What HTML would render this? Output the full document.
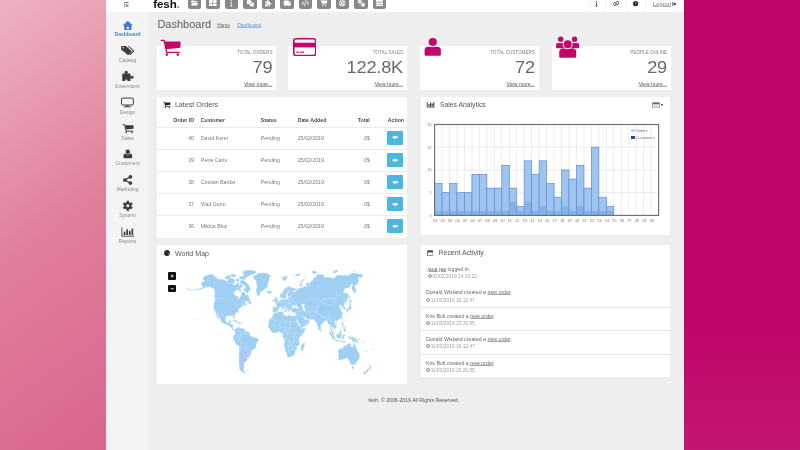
<!DOCTYPE html>
<html><head><meta charset="utf-8"><title>Dashboard</title>
<style>
html,body{margin:0;padding:0;width:800px;height:450px;overflow:hidden;}
#clip{position:absolute;left:0;top:0;width:800px;height:450px;overflow:hidden;}
body{width:800px;height:450px;overflow:hidden;position:relative;background:#eeeeee;font-family:"Liberation Sans",sans-serif;}
#root{position:absolute;left:0;top:0;width:800px;height:450px;filter:blur(0.62px);}
u{text-decoration:underline;text-decoration-color:rgba(90,90,90,0.55);text-underline-offset:0.3px;}
</style></head><body><div id="clip"><div id="root">
<div style="position:absolute;left:-20.00px;top:-20.00px;width:126.00px;height:490.00px;background:#e07f9a;"></div>
<div style="position:absolute;left:0.00px;top:0.00px;width:106.00px;height:450.00px;background:linear-gradient(145deg,#edb2bf 0%,#e07f9a 50%,#d8658c 100%);"></div>
<div style="position:absolute;left:684.00px;top:-20.00px;width:136.00px;height:490.00px;background:linear-gradient(180deg,#c0056a 0%,#c0056a 70%,#c21671 96%,#c21671 100%);"></div>
<div style="position:absolute;left:105.70px;top:-20.00px;width:578.30px;height:490.00px;background:#eeeeee;"></div>
<div style="position:absolute;left:105.70px;top:-20.00px;width:42.50px;height:490.00px;background:#f4f4f4;"></div>
<div style="position:absolute;left:105.70px;top:-20.00px;width:578.30px;height:32.00px;background:#fff;"></div>
<svg style="position:absolute;left:122.00px;top:2.00px;width:8.40px;height:5.40px;overflow:visible" viewBox="0 0 448 512" preserveAspectRatio="xMidYMid meet"><path fill="#5a5a5a" d="M.4 64c0-17.7 14.3-32 32-32h384c17.7 0 32 14.3 32 32s-14.3 32-32 32h-384C14.8 96 .4 81.7.4 64m192 128c0-17.7 14.3-32 32-32h192c17.7 0 32 14.3 32 32s-14.3 32-32 32h-192c-17.7 0-32-14.3-32-32m32 96h192c17.7 0 32 14.3 32 32s-14.3 32-32 32h-192c-17.7 0-32-14.3-32-32s14.3-32 32-32M.4 448c0-17.7 14.3-32 32-32h384c17.7 0 32 14.3 32 32s-14.3 32-32 32h-384c-17.7 0-32-14.3-32-32m.3-179.4c-8.2-6.4-8.2-18.9 0-25.3L102.6 164c10.5-8.2 25.8-.7 25.8 12.6v158.6c0 13.3-15.3 20.8-25.8 12.6z"/></svg>
<div style="position:absolute;top:-1px;font-size:11.6px;line-height:10px;color:#111;white-space:nowrap;font-weight:700;letter-spacing:-0.1px;left:153.20px;">fesh<span style="color:#e0407c">.</span></div>
<div style="position:absolute;left:187.60px;top:-4.00px;width:13.60px;height:13.30px;background:#888;border-radius:2.2px;"></div>
<svg style="position:absolute;left:190.10px;top:-0.10px;width:8.60px;height:6.40px;overflow:visible" viewBox="0 0 576 512" preserveAspectRatio="xMidYMid meet"><path fill="#fff" d="m56 225.6-23.6 70.6V96c0-35.3 28.7-64 64-64h138.7c13.8 0 27.3 4.5 38.4 12.8l38.4 28.8c5.5 4.2 12.3 6.4 19.2 6.4h117.3c35.3 0 64 28.7 64 64v16H147c-41.3 0-78 26.4-91.1 65.6zM477.8 448H99c-32.8 0-55.9-32.1-45.5-63.2l48-144C108 221.2 126.4 208 147 208h378.8c32.8 0 55.9 32.1 45.5 63.2l-48 144c-6.5 19.6-24.9 32.8-45.5 32.8"/></svg>
<div style="position:absolute;left:206.10px;top:-4.00px;width:13.60px;height:13.30px;background:#888;border-radius:2.2px;"></div>
<svg style="position:absolute;left:209.10px;top:-0.4px;width:7.6px;height:6.6px" viewBox="0 0 76 66"><rect x="0" y="0" width="35" height="30" rx="4" fill="#fff"/><rect x="41" y="0" width="35" height="30" rx="4" fill="#fff"/><rect x="0" y="36" width="35" height="30" rx="4" fill="#fff"/><rect x="41" y="36" width="35" height="30" rx="4" fill="#fff"/></svg>
<div style="position:absolute;left:224.60px;top:-4.00px;width:13.60px;height:13.30px;background:#888;border-radius:2.2px;"></div>
<svg style="position:absolute;left:227.10px;top:-0.10px;width:8.60px;height:6.40px;overflow:visible" viewBox="0 0 192 512" preserveAspectRatio="xMidYMid meet"><path fill="#fff" d="M48 48a48 48 0 1 1 96 0 48 48 0 1 1-96 0M0 192c0-17.7 14.3-32 32-32h64c17.7 0 32 14.3 32 32v256h32c17.7 0 32 14.3 32 32s-14.3 32-32 32H32c-17.7 0-32-14.3-32-32s14.3-32 32-32h32V224H32c-17.7 0-32-14.3-32-32"/></svg>
<div style="position:absolute;left:243.10px;top:-4.00px;width:13.60px;height:13.30px;background:#888;border-radius:2.2px;"></div>
<svg style="position:absolute;left:245.60px;top:-0.10px;width:8.60px;height:6.40px;overflow:visible" viewBox="0 0 576 512" preserveAspectRatio="xMidYMid meet"><path fill="#fff" d="M384 144c0 97.2-86 176-192 176-26.7 0-52.1-5-75.2-14l-81.6 43.2c-9.3 4.9-20.7 3.2-28.2-4.2s-9.2-18.9-4.2-28.2l35.6-67.2C14.3 220.2 0 183.6 0 144 0 46.8 86-32 192-32s192 78.8 192 176m0 368c-94.1 0-172.4-62.1-188.8-144 120-1.5 224.3-86.9 235.8-202.7 83.3 19.2 145 88.3 145 170.7 0 39.6-14.3 76.2-38.4 105.6l35.6 67.2c4.9 9.3 3.2 20.7-4.2 28.2s-18.9 9.2-28.2 4.2L459.2 498c-23.1 9-48.5 14-75.2 14"/></svg>
<div style="position:absolute;left:261.60px;top:-4.00px;width:13.60px;height:13.30px;background:#888;border-radius:2.2px;"></div>
<svg style="position:absolute;left:264.10px;top:-0.10px;width:8.60px;height:6.40px;overflow:visible" viewBox="0 0 512 512" preserveAspectRatio="xMidYMid meet"><path fill="#fff" d="M224 0c35.3 0 64 21.5 64 48 0 10.4-4.4 20-12 27.9-6.6 6.9-12 15.3-12 24.9 0 15 12.2 27.2 27.2 27.2H336c26.5 0 48 21.5 48 48v44.8c0 15 12.2 27.2 27.2 27.2 9.5 0 18-5.4 24.9-12 7.9-7.5 17.5-12 27.9-12 26.5 0 48 28.7 48 64s-21.5 64-48 64c-10.4 0-20.1-4.4-27.9-12-6.9-6.6-15.3-12-24.9-12-15 0-27.2 12.2-27.2 27.2V464c0 26.5-21.5 48-48 48h-56.8c-12.8 0-23.2-10.4-23.2-23.2 0-9.2 5.8-17.3 13.2-22.8 11.6-8.7 18.8-20.7 18.8-34 0-26.5-28.7-48-64-48s-64 21.5-64 48c0 13.3 7.2 25.3 18.8 34 7.4 5.5 13.2 13.5 13.2 22.8 0 12.8-10.4 23.2-23.2 23.2H48c-26.5 0-48-21.5-48-48V343.2C0 330.4 10.4 320 23.2 320c9.2 0 17.3 5.8 22.8 13.2 8.7 11.6 20.7 18.8 34 18.8 26.5 0 48-28.7 48-64s-21.5-64-48-64c-13.3 0-25.3 7.2-34 18.8-5.5 7.4-13.5 13.2-22.8 13.2C10.4 256 0 245.6 0 232.8V176c0-26.5 21.5-48 48-48h108.8c15 0 27.2-12.2 27.2-27.2 0-9.5-5.4-18-12-24.9-7.5-7.9-12-17.5-12-27.9 0-26.5 28.7-48 64-48"/></svg>
<div style="position:absolute;left:280.10px;top:-4.00px;width:13.60px;height:13.30px;background:#888;border-radius:2.2px;"></div>
<svg style="position:absolute;left:282.60px;top:-0.10px;width:8.60px;height:6.40px;overflow:visible" viewBox="0 0 576 512" preserveAspectRatio="xMidYMid meet"><path fill="#fff" d="M0 96c0-35.3 28.7-64 64-64h288c35.3 0 64 28.7 64 64v32h50.7c17 0 33.3 6.7 45.3 18.7l45.3 45.3c12 12 18.7 28.3 18.7 45.3V384c0 35.3-28.7 64-64 64h-3.3c-10.4 36.9-44.4 64-84.7 64s-74.2-27.1-84.7-64H236.7c-10.4 36.9-44.4 64-84.7 64s-74.2-27.1-84.7-64H64c-35.3 0-64-28.7-64-64zm512 192v-50.7L466.7 192H416v96zM192 424a40 40 0 1 0-80 0 40 40 0 1 0 80 0m232 40a40 40 0 1 0 0-80 40 40 0 1 0 0 80"/></svg>
<div style="position:absolute;left:298.60px;top:-4.00px;width:13.60px;height:13.30px;background:#888;border-radius:2.2px;"></div>
<svg style="position:absolute;left:301.10px;top:-0.10px;width:8.60px;height:6.40px;overflow:visible" viewBox="0 0 576 512" preserveAspectRatio="xMidYMid meet"><path fill="#fff" d="M360.8 1.2c-17-4.9-34.7 5-39.6 22l-128 448c-4.9 17 5 34.7 22 39.6s34.7-5 39.6-22l128-448c4.9-17-5-34.7-22-39.6m64.6 136.1c-12.5 12.5-12.5 32.8 0 45.3l73.4 73.4-73.4 73.4c-12.5 12.5-12.5 32.8 0 45.3s32.8 12.5 45.3 0l96-96c12.5-12.5 12.5-32.8 0-45.3l-96-96c-12.5-12.5-32.8-12.5-45.3 0zm-274.7 0c-12.5-12.5-32.8-12.5-45.3 0l-96 96c-12.5 12.5-12.5 32.8 0 45.3l96 96c12.5 12.5 32.8 12.5 45.3 0s12.5-32.8 0-45.3L77.3 256l73.3-73.4c12.5-12.5 12.5-32.8 0-45.3z"/></svg>
<div style="position:absolute;left:317.10px;top:-4.00px;width:13.60px;height:13.30px;background:#888;border-radius:2.2px;"></div>
<svg style="position:absolute;left:319.60px;top:-0.10px;width:8.60px;height:6.40px;overflow:visible" viewBox="0 0 640 512" preserveAspectRatio="xMidYMid meet"><path fill="#fff" d="M24-16C10.7-16 0-5.3 0 8s10.7 24 24 24h45.3c3.9 0 7.2 2.8 7.9 6.6l52.1 286.3c6.2 34.2 36 59.1 70.8 59.1H456c13.3 0 24-10.7 24-24s-10.7-24-24-24H200.1c-11.6 0-21.5-8.3-23.6-19.7l-5.1-28.3H475c30.8 0 57.2-21.9 62.9-52.2l31-165.9c3.7-19.7-11.4-37.9-31.5-37.9H124.7l-.4-2c-4.8-26.6-28-46-55.1-46zm184 528a48 48 0 1 0 0-96 48 48 0 1 0 0 96m224 0a48 48 0 1 0 0-96 48 48 0 1 0 0 96"/></svg>
<div style="position:absolute;left:335.60px;top:-4.00px;width:13.60px;height:13.30px;background:#888;border-radius:2.2px;"></div>
<svg style="position:absolute;left:338.10px;top:-0.10px;width:8.60px;height:6.40px;overflow:visible" viewBox="0 0 512 512" preserveAspectRatio="xMidYMid meet"><path fill="#fff" d="M367.2 412.5C335.9 434.9 297.5 448 256 448s-79.9-13.1-111.2-35.5l58-58c15.8 8.6 34 13.5 53.3 13.5s37.4-4.9 53.3-13.5l58 58zm90.7.8c33.8-43.4 54-98 54-157.3S491.8 142.1 458 98.7c9-12.5 7.9-30.1-3.4-41.3S425.8 45 413.3 54C369.9 20.2 315.3 0 256 0S142.1 20.2 98.7 54c-12.5-9-30.1-7.9-41.3 3.4S45 86.2 54 98.7C20.2 142.1 0 196.7 0 256s20.2 113.9 54 157.3c-9 12.5-7.9 30.1 3.4 41.3S86.2 467 98.7 458c43.4 33.8 98 54 157.3 54s113.9-20.2 157.3-54c12.5 9 30.1 7.9 41.3-3.4s12.4-28.8 3.4-41.3zm-45.5-46.1-58-58c8.6-15.8 13.5-34 13.5-53.3s-4.9-37.4-13.5-53.3l58-58C434.9 176.1 448 214.5 448 256s-13.1 79.9-35.5 111.2zM367.2 99.5l-58 58c-15.8-8.6-34-13.5-53.3-13.5s-37.4 4.9-53.3 13.5l-58-58C176.1 77.1 214.5 64 256 64s79.9 13.1 111.2 35.5M157.5 309.3l-58 58C77.1 335.9 64 297.5 64 256s13.1-79.9 35.5-111.2l58 58c-8.6 15.8-13.5 34-13.5 53.3s4.9 37.4 13.5 53.3zM208 256a48 48 0 1 1 96 0 48 48 0 1 1-96 0"/></svg>
<div style="position:absolute;left:354.10px;top:-4.00px;width:13.60px;height:13.30px;background:#888;border-radius:2.2px;"></div>
<svg style="position:absolute;left:356.60px;top:-0.10px;width:8.60px;height:6.40px;overflow:visible" viewBox="0 0 640 512" preserveAspectRatio="xMidYMid meet"><path fill="#fff" d="M415.9 210.5c12.2-3.3 25 2.5 30.5 13.8l18.6 37.6c10.3 1.4 20.4 4.2 29.9 8.1l35-23.3c10.5-7 24.4-5.6 33.3 3.3l19.2 19.2c8.9 8.9 10.3 22.9 3.3 33.3l-23.3 34.9c1.9 4.7 3.6 9.6 5 14.7s2.3 10.1 3 15.2l37.7 18.6c11.3 5.6 17.1 18.4 13.8 30.5l-7 26.2c-3.3 12.1-14.6 20.3-27.2 19.5l-42-2.7c-6.3 8.1-13.6 15.6-21.9 22l2.7 41.9c.8 12.6-7.4 24-19.5 27.2l-26.2 7c-12.2 3.3-24.9-2.5-30.5-13.8l-18.6-37.6c-10.3-1.4-20.4-4.2-29.9-8.1l-35 23.3c-10.5 7-24.4 5.6-33.3-3.3l-19.2-19.2c-8.9-8.9-10.3-22.8-3.3-33.3l23.3-35c-1.9-4.7-3.6-9.6-5-14.7s-2.3-10.2-3-15.2L288.6 382c-11.3-5.6-17-18.4-13.8-30.5l7-26.2c3.3-12.1 14.6-20.3 27.2-19.5l41.9 2.7c6.3-8.1 13.6-15.6 21.9-22l-2.7-41.8c-.8-12.6 7.4-24 19.5-27.2l26.2-7zM448.4 340a44 44 0 1 0 .1 88 44 44 0 1 0-.1-88M224.9-45.5l26.2 7c12.1 3.3 20.3 14.7 19.5 27.2l-2.7 41.8c8.3 6.4 15.6 13.8 21.9 22l42-2.7c12.5-.8 23.9 7.4 27.2 19.5l7 26.2c3.2 12.1-2.5 24.9-13.8 30.5l-37.7 18.6c-.7 5.1-1.7 10.2-3 15.2s-3.1 10-5 14.7l23.3 35c7 10.5 5.6 24.4-3.3 33.3L307.3 262c-8.9 8.9-22.8 10.3-33.3 3.3L239 242c-9.5 3.9-19.6 6.7-29.9 8.1l-18.6 37.6c-5.6 11.3-18.4 17-30.5 13.8l-26.2-7c-12.2-3.3-20.3-14.7-19.5-27.2l2.7-41.9c-8.3-6.4-15.6-13.8-21.9-22l-42 2.7c-12.5.8-23.9-7.4-27.2-19.5l-7-26.2c-3.2-12.1 2.5-24.9 13.8-30.5l37.7-18.6c.7-5.1 1.7-10.1 3-15.2 1.4-5.1 3-10 5-14.7L55.1 46.5c-7-10.5-5.6-24.4 3.3-33.3L77.6-6c8.9-8.9 22.8-10.3 33.3-3.3l35 23.3c9.5-3.9 19.6-6.7 29.9-8.1l18.6-37.6c5.6-11.3 18.3-17 30.5-13.8M192.4 84a44 44 0 1 0 0 88 44 44 0 1 0 0-88"/></svg>
<div style="position:absolute;left:372.60px;top:-4.00px;width:13.60px;height:13.30px;background:#888;border-radius:2.2px;"></div>
<svg style="position:absolute;left:375.50px;top:-0.4px;width:7.8px;height:6.6px" viewBox="0 0 78 66"><g fill="#fff"><rect x="0" y="0" width="78" height="18" rx="3"/><rect x="0" y="24" width="78" height="18" rx="3"/><rect x="0" y="48" width="78" height="18" rx="3"/></g></svg>
<div style="position:absolute;left:590.00px;top:0.00px;width:0.60px;height:12.00px;background:#f5f5f5;"></div>
<div style="position:absolute;left:604.90px;top:0.00px;width:0.60px;height:12.00px;background:#f5f5f5;"></div>
<div style="position:absolute;left:625.70px;top:0.00px;width:0.60px;height:12.00px;background:#f5f5f5;"></div>
<div style="position:absolute;left:645.20px;top:0.00px;width:0.60px;height:12.00px;background:#f5f5f5;"></div>
<svg style="position:absolute;left:595.40px;top:0.90px;width:3.20px;height:5.40px;overflow:visible" viewBox="0 0 192 512" preserveAspectRatio="xMidYMid meet"><path fill="#1a1a1a" d="M48 48a48 48 0 1 1 96 0 48 48 0 1 1-96 0M0 192c0-17.7 14.3-32 32-32h64c17.7 0 32 14.3 32 32v256h32c17.7 0 32 14.3 32 32s-14.3 32-32 32H32c-17.7 0-32-14.3-32-32s14.3-32 32-32h32V224H32c-17.7 0-32-14.3-32-32"/></svg>
<svg style="position:absolute;left:612.60px;top:0.90px;width:6.40px;height:5.20px;overflow:visible" viewBox="0 0 576 512" preserveAspectRatio="xMidYMid meet"><path fill="#222" d="M419.5 96c-16.6 0-32.7 4.5-46.8 12.7-15.8-16-34.2-29.4-54.5-39.5 28.2-24 64.1-37.2 101.3-37.2C505.9 32 576 102 576 188.5c0 41.5-16.5 81.3-45.8 110.6l-71.1 71.1C429.8 399.5 390 416 348.5 416 262.1 416 192 346 192 259.5c0-1.5 0-3 .1-4.5.5-17.7 15.2-31.6 32.9-31.1s31.6 15.2 31.1 32.9v2.6c0 51.1 41.4 92.5 92.5 92.5 24.5 0 48-9.7 65.4-27.1l71.1-71.1c17.3-17.3 27.1-40.9 27.1-65.4 0-51.1-41.4-92.5-92.5-92.5zm-144.3 77.3c-1.9-.8-3.8-1.9-5.5-3.1-12.6-6.5-27-10.2-42.1-10.2-24.5 0-48 9.7-65.4 27.1l-71.1 71.1C73.8 275.5 64 299.1 64 323.6c0 51.1 41.4 92.5 92.5 92.5 16.5 0 32.6-4.4 46.7-12.6 15.8 16 34.2 29.4 54.6 39.5-28.2 23.9-64 37.2-101.3 37.2C70.1 480.2 0 410.2 0 323.7c0-41.5 16.5-81.3 45.8-110.6l71.1-71.1c29.3-29.3 69.1-45.8 110.6-45.8 86.6 0 156.5 70.6 156.5 156.9v3.9c-.4 17.7-15.1 31.6-32.8 31.2s-31.6-15.1-31.2-32.8v-2.3c0-33.7-18-63.3-44.8-79.6z"/></svg>
<svg style="position:absolute;left:633.40px;top:1.00px;width:5.20px;height:5.20px;overflow:visible" viewBox="0 0 512 512" preserveAspectRatio="xMidYMid meet"><path fill="#222" d="M256 512a256 256 0 1 0 0-512 256 256 0 1 0 0 512m0-336c-17.7 0-32 14.3-32 32 0 13.3-10.7 24-24 24s-24-10.7-24-24c0-44.2 35.8-80 80-80s80 35.8 80 80c0 47.2-36 67.2-56 74.5v3.8c0 13.3-10.7 24-24 24s-24-10.7-24-24v-8.1c0-20.5 14.8-35.2 30.1-40.2 6.4-2.1 13.2-5.5 18.2-10.3 4.3-4.2 7.7-10 7.7-19.6 0-17.7-14.3-32-32-32zm-32 192a32 32 0 1 1 64 0 32 32 0 1 1-64 0"/></svg>
<div style="position:absolute;top:-1px;font-size:5.7px;line-height:10px;color:#707070;white-space:nowrap;letter-spacing:0.12px;left:653.00px;text-decoration:underline;text-decoration-color:rgba(90,90,90,0.5);text-underline-offset:0.3px;">Logout</div>
<svg style="position:absolute;left:672.00px;top:1.60px;width:4.00px;height:4.00px;overflow:visible" viewBox="0 0 512 512" preserveAspectRatio="xMidYMid meet"><path fill="#111" d="M505 273c9.4-9.4 9.4-24.6 0-33.9L361 95c-6.9-6.9-17.2-8.9-26.2-5.2S320 102.3 320 112v80H208c-26.5 0-48 21.5-48 48v32c0 26.5 21.5 48 48 48h112v80c0 9.7 5.8 18.5 14.8 22.2s19.3 1.7 26.2-5.2zM160 96c17.7 0 32-14.3 32-32s-14.3-32-32-32H96C43 32 0 75 0 128v256c0 53 43 96 96 96h64c17.7 0 32-14.3 32-32s-14.3-32-32-32H96c-17.7 0-32-14.3-32-32V128c0-17.7 14.3-32 32-32z"/></svg>
<svg style="position:absolute;left:122.00px;top:20.50px;width:11.60px;height:9.00px;overflow:visible" viewBox="0 0 512 512" preserveAspectRatio="xMidYMid meet"><path fill="#3a78dd" d="M277.8 8.6c-12.3-11.4-31.3-11.4-43.5 0l-224 208c-9.6 9-12.8 22.9-8 35.1S18.8 272 32 272h16v176c0 35.3 28.7 64 64 64h288c35.3 0 64-28.7 64-64V272h16c13.2 0 25-8.1 29.8-20.3s1.6-26.2-8-35.1zM240 320h32c26.5 0 48 21.5 48 48v96H192v-96c0-26.5 21.5-48 48-48"/></svg>
<div style="position:absolute;top:29px;font-size:5.0px;line-height:10px;color:#4480e0;white-space:nowrap;font-weight:700;left:127.60px;transform:translateX(-50%);">Dashboard</div>
<svg style="position:absolute;left:0;top:0;width:800px;height:450px" viewBox="0 0 800 450"><g transform="translate(121.1,46.1)" fill="#3d3d3d"><path d="M0 0.7Q0 0 0.7 0L4.7 0L10.5 4.9Q11 5.4 10.5 5.9L7.5 8.6Q7 9 6.5 8.6L0 3.5Z"/><path d="M6.4 0L7.7 0L12.9 4.5Q13.4 5 12.9 5.5L9.4 8.6Q9 8.9 8.5 8.7L8.1 8.3L11.5 5.4Q12 5 11.5 4.5Z"/><circle cx="2.1" cy="1.7" r="0.75" fill="#f4f4f4"/></g></svg>
<div style="position:absolute;top:55px;font-size:5.0px;line-height:10px;color:#8a8a8a;white-space:nowrap;left:127.60px;transform:translateX(-50%);">Catalog</div>
<svg style="position:absolute;left:0;top:0;width:800px;height:450px" viewBox="0 0 800 450"><g fill="#3d3d3d"><rect x="122.2" y="73.6" width="8.3" height="7.5" rx="0.5"/><circle cx="126.2" cy="72.3" r="1.55"/><rect x="125.4" y="72.5" width="1.6" height="1.6"/><circle cx="132" cy="77.2" r="1.5"/><rect x="130.2" y="76.4" width="1.6" height="1.6"/><circle cx="126.3" cy="80.6" r="1.15" fill="#f4f4f4"/></g></svg>
<div style="position:absolute;top:81px;font-size:5.0px;line-height:10px;color:#8a8a8a;white-space:nowrap;left:127.60px;transform:translateX(-50%);">Extensions</div>
<svg style="position:absolute;left:0;top:0;width:800px;height:450px" viewBox="0 0 800 450"><rect x="121.5" y="98.1" width="11.8" height="6.9" rx="0.9" fill="none" stroke="#3d3d3d" stroke-width="1.0"/><rect x="126.3" y="105.2" width="2.2" height="1.3" fill="#3d3d3d"/><rect x="123.9" y="106.3" width="7" height="1.0" rx="0.4" fill="#3d3d3d"/></svg>
<div style="position:absolute;top:107px;font-size:5.0px;line-height:10px;color:#8a8a8a;white-space:nowrap;left:127.60px;transform:translateX(-50%);">Design</div>
<svg style="position:absolute;left:0;top:0;width:800px;height:450px" viewBox="0 0 800 450"><g transform="translate(122.9,124.2) scale(0.545) translate(-161.0,-39.5)"><path d="M161.3 40.4H164.1L166.7 52.3H179.3" fill="none" stroke="#3d3d3d" stroke-width="1.7" stroke-linecap="round" stroke-linejoin="round"/><path d="M164.8 41.5H180.5V47.7L166.2 49.2Z" fill="#3d3d3d"/><circle cx="166.9" cy="54.6" r="1.5" fill="#3d3d3d"/><circle cx="177.8" cy="54.6" r="1.5" fill="#3d3d3d"/></g></svg>
<div style="position:absolute;top:133px;font-size:5.0px;line-height:10px;color:#8a8a8a;white-space:nowrap;left:127.60px;transform:translateX(-50%);">Sales</div>
<svg style="position:absolute;left:0;top:0;width:800px;height:450px" viewBox="0 0 800 450"><defs><mask id="mus"><rect x="120" y="146" width="16" height="16" fill="#fff"/><circle cx="127.8" cy="151.7" r="2.8" fill="#000"/></mask></defs><circle cx="127.8" cy="151.7" r="2.2" fill="#3d3d3d"/><path mask="url(#mus)" d="M123.5 157.4V155.4Q123.5 153.6 125.3 153.6H130.3Q132.1 153.6 132.1 155.4V157.4Q132.1 158.2 131.3 158.2H124.3Q123.5 158.2 123.5 157.4Z" fill="#3d3d3d"/></svg>
<div style="position:absolute;top:158px;font-size:5.0px;line-height:10px;color:#8a8a8a;white-space:nowrap;left:127.60px;transform:translateX(-50%);">Customers</div>
<svg style="position:absolute;left:122.50px;top:175.30px;width:9.80px;height:10.00px;overflow:visible" viewBox="0 0 512 512" preserveAspectRatio="xMidYMid meet"><path fill="#3d3d3d" d="M384 192c53 0 96-43 96-96S437 0 384 0s-96 43-96 96c0 5.4.5 10.8 1.3 16l-129.7 72.1c-16.9-15-39.2-24.1-63.6-24.1-53 0-96 43-96 96s43 96 96 96c24.4 0 46.6-9.1 63.6-24.1L289.3 400c-.9 5.2-1.3 10.5-1.3 16 0 53 43 96 96 96s96-43 96-96-43-96-96-96c-24.4 0-46.6 9.1-63.6 24.1L190.7 272c.9-5.2 1.3-10.5 1.3-16s-.5-10.8-1.3-16l129.7-72.1c16.9 15 39.2 24.1 63.6 24.1"/></svg>
<div style="position:absolute;top:184px;font-size:5.0px;line-height:10px;color:#8a8a8a;white-space:nowrap;left:127.60px;transform:translateX(-50%);">Marketing</div>
<svg style="position:absolute;left:122.60px;top:200.80px;width:9.60px;height:9.60px;overflow:visible" viewBox="0 0 512 512" preserveAspectRatio="xMidYMid meet"><path fill="#3d3d3d" d="M195.1 9.5c3-14.8 16.1-25.5 31.3-25.5h59.8c15.2 0 28.3 10.7 31.3 25.5l14.5 70c14.1 6 27.3 13.7 39.3 22.8l67.8-22.5c14.4-4.8 30.2 1.2 37.8 14.4l29.9 51.8c7.6 13.2 4.9 29.8-6.5 39.9L447 233.3c.9 7.4 1.3 15 1.3 22.7s-.5 15.3-1.3 22.7l53.4 47.5c11.4 10.1 14 26.8 6.5 39.9L477 417.9c-7.6 13.1-23.4 19.2-37.8 14.4l-67.8-22.5c-12.1 9.1-25.3 16.7-39.3 22.8l-14.4 69.9c-3.1 14.9-16.2 25.5-31.3 25.5h-59.8c-15.2 0-28.3-10.7-31.3-25.5l-14.4-69.9c-14.1-6-27.2-13.7-39.3-22.8l-68.1 22.5c-14.4 4.8-30.2-1.2-37.8-14.4L5.8 366.1c-7.6-13.2-4.9-29.8 6.5-39.9l53.4-47.5c-.9-7.4-1.3-15-1.3-22.7s.5-15.3 1.3-22.7l-53.4-47.5C.9 175.7-1.7 159 5.8 145.9l29.9-51.8c7.6-13.2 23.4-19.2 37.8-14.4l67.8 22.5c12.1-9.1 25.3-16.7 39.3-22.8zM256.3 336a80 80 0 1 0-.6-160 80 80 0 1 0 .6 160"/></svg>
<div style="position:absolute;top:210px;font-size:5.0px;line-height:10px;color:#8a8a8a;white-space:nowrap;left:127.60px;transform:translateX(-50%);">System</div>
<svg style="position:absolute;left:0;top:0;width:800px;height:450px" viewBox="0 0 800 450"><path d="M121.9 227.5V236.2H134.2" fill="none" stroke="#3d3d3d" stroke-width="0.9"/><g fill="#3d3d3d"><rect x="123.7" y="231.6" width="1.7" height="3.4"/><rect x="126.3" y="229.4" width="1.7" height="5.6"/><rect x="128.9" y="230.8" width="1.7" height="4.2"/><rect x="131.5" y="228.6" width="1.7" height="6.4"/></g></svg>
<div style="position:absolute;top:236px;font-size:5.0px;line-height:10px;color:#8a8a8a;white-space:nowrap;left:127.60px;transform:translateX(-50%);">Reports</div>
<div style="position:absolute;top:19px;font-size:11px;line-height:10px;color:#5c5c5c;white-space:nowrap;left:157.40px;">Dashboard</div>
<div style="position:absolute;top:21px;font-size:4.8px;line-height:10px;color:#666;white-space:nowrap;left:217.20px;text-decoration:underline;text-decoration-color:rgba(90,90,90,0.5);text-underline-offset:0.3px;">Home</div>
<div style="position:absolute;top:21px;font-size:4.9px;line-height:10px;color:#5b9bd8;white-space:nowrap;left:237.20px;text-decoration:underline;text-decoration-color:rgba(91,155,216,0.6);text-underline-offset:0.3px;">Dashboard</div>
<div style="position:absolute;left:156.80px;top:46.30px;width:119.60px;height:44.10px;background:#fff;"></div>
<div style="position:absolute;top:48px;font-size:4.6px;line-height:10px;color:#848484;white-space:nowrap;font-weight:400;right:527.50px;">TOTAL ORDERS</div>
<div style="position:absolute;top:62px;font-size:18.2px;line-height:10px;color:#686868;white-space:nowrap;font-weight:400;letter-spacing:-0.2px;right:527.60px;transform-origin:100% 11px;transform:translateY(0.35px) scaleY(0.905);">79</div>
<div style="position:absolute;top:79px;font-size:5.15px;line-height:10px;color:#555;white-space:nowrap;font-weight:400;right:527.50px;text-decoration:underline;text-decoration-color:rgba(90,90,90,0.5);text-underline-offset:0.3px;">View more...</div>
<div style="position:absolute;left:288.00px;top:46.30px;width:119.00px;height:44.10px;background:#fff;"></div>
<div style="position:absolute;top:48px;font-size:4.6px;line-height:10px;color:#848484;white-space:nowrap;font-weight:400;right:396.90px;">TOTAL SALES</div>
<div style="position:absolute;top:62px;font-size:18.2px;line-height:10px;color:#686868;white-space:nowrap;font-weight:400;letter-spacing:-0.2px;right:397.00px;transform-origin:100% 11px;transform:translateY(0.35px) scaleY(0.905);">122.8K</div>
<div style="position:absolute;top:79px;font-size:5.15px;line-height:10px;color:#555;white-space:nowrap;font-weight:400;right:396.90px;text-decoration:underline;text-decoration-color:rgba(90,90,90,0.5);text-underline-offset:0.3px;">View more...</div>
<div style="position:absolute;left:419.60px;top:46.30px;width:119.20px;height:44.10px;background:#fff;"></div>
<div style="position:absolute;top:48px;font-size:4.6px;line-height:10px;color:#848484;white-space:nowrap;font-weight:400;right:265.10px;">TOTAL CUSTOMERS</div>
<div style="position:absolute;top:62px;font-size:18.2px;line-height:10px;color:#686868;white-space:nowrap;font-weight:400;letter-spacing:-0.2px;right:265.20px;transform-origin:100% 11px;transform:translateY(0.35px) scaleY(0.905);">72</div>
<div style="position:absolute;top:79px;font-size:5.15px;line-height:10px;color:#555;white-space:nowrap;font-weight:400;right:265.10px;text-decoration:underline;text-decoration-color:rgba(90,90,90,0.5);text-underline-offset:0.3px;">View more...</div>
<div style="position:absolute;left:551.60px;top:46.30px;width:119.40px;height:44.10px;background:#fff;"></div>
<div style="position:absolute;top:48px;font-size:4.6px;line-height:10px;color:#848484;white-space:nowrap;font-weight:400;right:132.90px;">PEOPLE ONLINE</div>
<div style="position:absolute;top:62px;font-size:18.2px;line-height:10px;color:#686868;white-space:nowrap;font-weight:400;letter-spacing:-0.2px;right:133.00px;transform-origin:100% 11px;transform:translateY(0.35px) scaleY(0.905);">29</div>
<div style="position:absolute;top:79px;font-size:5.15px;line-height:10px;color:#555;white-space:nowrap;font-weight:400;right:132.90px;text-decoration:underline;text-decoration-color:rgba(90,90,90,0.5);text-underline-offset:0.3px;">View more...</div>
<svg style="position:absolute;left:0;top:0;width:800px;height:450px" viewBox="0 0 800 450"><path d="M161.3 40.4H164.1L166.7 52.3H179.3" fill="none" stroke="#c4066b" stroke-width="1.35" stroke-linecap="round" stroke-linejoin="round"/><path d="M164.8 41.5H180.5V47.7L166.2 49.2Z" fill="#c4066b"/><circle cx="166.9" cy="54.6" r="1.3" fill="#c4066b"/><circle cx="177.8" cy="54.6" r="1.3" fill="#c4066b"/></svg>
<svg style="position:absolute;left:292.5px;top:37.9px;width:23.5px;height:18.4px" viewBox="0 0 235 184"><rect x="8" y="8" width="219" height="168" rx="22" fill="none" stroke="#c4066b" stroke-width="16"/><rect x="8" y="48" width="219" height="46" fill="#c4066b"/><rect x="34" y="136" width="26" height="12" fill="#c4066b"/><rect x="72" y="136" width="40" height="12" fill="#c4066b"/></svg>
<svg style="position:absolute;left:0;top:0;width:800px;height:450px" viewBox="0 0 800 450"><defs><mask id="mu"><rect x="420" y="30" width="30" height="30" fill="#fff"/><circle cx="432.8" cy="42" r="5.0" fill="#000"/></mask><mask id="mg"><rect x="550" y="30" width="36" height="30" fill="#fff"/><circle cx="567.7" cy="44.3" r="4.9" fill="#000"/></mask></defs><circle cx="432.8" cy="42" r="4.1" fill="#c4066b"/><path mask="url(#mu)" d="M424.6 54.3V50.4Q424.6 46.8 428.2 46.8H437.3Q440.9 46.8 440.9 50.4V54.3Q440.9 55.8 439.4 55.8H426.1Q424.6 55.8 424.6 54.3Z" fill="#c4066b"/><circle cx="567.7" cy="44.3" r="4.0" fill="#c4066b"/><circle cx="560.7" cy="39.3" r="2.7" fill="#c4066b"/><circle cx="574.6" cy="39.3" r="2.7" fill="#c4066b"/><g mask="url(#mg)" fill="#c4066b"><path d="M559.2 56.2V52.2Q559.2 48.6 562.8 48.6H572.6Q576.2 48.6 576.2 52.2V56.2Q576.2 57.7 574.7 57.7H560.7Q559.2 57.7 559.2 56.2Z"/><path d="M556 47V45Q556 42.9 558.2 42.9H563.2Q564.4 42.9 564.4 44.5V48.2H557.2Q556 48.2 556 47Z"/><path d="M579.3 47V45Q579.3 42.9 577.1 42.9H572.1Q570.9 42.9 570.9 44.5V48.2H578.1Q579.3 48.2 579.3 47Z"/></g></svg>
<div style="position:absolute;left:156.80px;top:96.60px;width:250.20px;height:141.70px;background:#fff;"></div>
<svg style="position:absolute;left:0;top:0;width:800px;height:450px" viewBox="0 0 800 450"><g transform="translate(163.4,101.9) scale(0.36) translate(-161.0,-39.5)"><path d="M161.3 40.4H164.1L166.7 52.3H179.3" fill="none" stroke="#222" stroke-width="2.0" stroke-linecap="round" stroke-linejoin="round"/><path d="M164.8 41.5H180.5V47.7L166.2 49.2Z" fill="#222"/><circle cx="166.9" cy="54.6" r="1.7" fill="#222"/><circle cx="177.8" cy="54.6" r="1.7" fill="#222"/></g></svg>
<div style="position:absolute;top:100px;font-size:7.15px;line-height:10px;color:#555;white-space:nowrap;left:174.90px;">Latest Orders</div>
<div style="position:absolute;top:115px;font-size:5.2px;line-height:10px;color:#4a4a4a;white-space:nowrap;font-weight:700;right:606.00px;">Order ID</div>
<div style="position:absolute;top:115px;font-size:5.2px;line-height:10px;color:#4a4a4a;white-space:nowrap;font-weight:700;left:200.80px;">Customer</div>
<div style="position:absolute;top:115px;font-size:5.2px;line-height:10px;color:#4a4a4a;white-space:nowrap;font-weight:700;left:260.70px;">Status</div>
<div style="position:absolute;top:115px;font-size:5.2px;line-height:10px;color:#4a4a4a;white-space:nowrap;font-weight:700;left:297.70px;">Date Added</div>
<div style="position:absolute;top:115px;font-size:5.2px;line-height:10px;color:#4a4a4a;white-space:nowrap;font-weight:700;right:430.20px;">Total</div>
<div style="position:absolute;top:115px;font-size:5.2px;line-height:10px;color:#4a4a4a;white-space:nowrap;font-weight:700;right:396.00px;">Action</div>
<div style="position:absolute;left:156.80px;top:126.80px;width:250.00px;height:0.70px;background:#ebebeb;"></div>
<div style="position:absolute;top:133px;font-size:5.25px;line-height:10px;color:#7a7a7a;white-space:nowrap;font-weight:400;right:606.00px;">40</div>
<div style="position:absolute;top:133px;font-size:5.25px;line-height:10px;color:#7a7a7a;white-space:nowrap;left:200.80px;">David Kerei</div>
<div style="position:absolute;top:133px;font-size:5.25px;line-height:10px;color:#7a7a7a;white-space:nowrap;left:260.70px;">Pending</div>
<div style="position:absolute;top:133px;font-size:5.25px;line-height:10px;color:#7a7a7a;white-space:nowrap;left:297.70px;">25/02/2019</div>
<div style="position:absolute;top:133px;font-size:5.25px;line-height:10px;color:#7a7a7a;white-space:nowrap;font-weight:400;right:430.20px;">0$</div>
<div style="position:absolute;left:386.70px;top:130.60px;width:16.70px;height:14.10px;background:#4bb6de;border-radius:1.2px;"></div>
<svg style="position:absolute;left:391.9px;top:135.35px;width:6.4px;height:4.6px" viewBox="0 0 72 48"><path d="M2 24C14 4 58 4 70 24C58 44 14 44 2 24Z" fill="#fff"/><circle cx="36" cy="24" r="6" fill="#bfe3f3"/></svg>
<div style="position:absolute;left:156.80px;top:148.95px;width:250.00px;height:0.70px;background:#ebebeb;"></div>
<div style="position:absolute;top:155px;font-size:5.25px;line-height:10px;color:#7a7a7a;white-space:nowrap;font-weight:400;right:606.00px;">39</div>
<div style="position:absolute;top:155px;font-size:5.25px;line-height:10px;color:#7a7a7a;white-space:nowrap;left:200.80px;">Petre Caris</div>
<div style="position:absolute;top:155px;font-size:5.25px;line-height:10px;color:#7a7a7a;white-space:nowrap;left:260.70px;">Pending</div>
<div style="position:absolute;top:155px;font-size:5.25px;line-height:10px;color:#7a7a7a;white-space:nowrap;left:297.70px;">25/02/2019</div>
<div style="position:absolute;top:155px;font-size:5.25px;line-height:10px;color:#7a7a7a;white-space:nowrap;font-weight:400;right:430.20px;">0$</div>
<div style="position:absolute;left:386.70px;top:152.75px;width:16.70px;height:14.10px;background:#4bb6de;border-radius:1.2px;"></div>
<svg style="position:absolute;left:391.9px;top:157.50px;width:6.4px;height:4.6px" viewBox="0 0 72 48"><path d="M2 24C14 4 58 4 70 24C58 44 14 44 2 24Z" fill="#fff"/><circle cx="36" cy="24" r="6" fill="#bfe3f3"/></svg>
<div style="position:absolute;left:156.80px;top:171.10px;width:250.00px;height:0.70px;background:#ebebeb;"></div>
<div style="position:absolute;top:177px;font-size:5.25px;line-height:10px;color:#7a7a7a;white-space:nowrap;font-weight:400;right:606.00px;">38</div>
<div style="position:absolute;top:177px;font-size:5.25px;line-height:10px;color:#7a7a7a;white-space:nowrap;left:200.80px;">Cristian Bardet</div>
<div style="position:absolute;top:177px;font-size:5.25px;line-height:10px;color:#7a7a7a;white-space:nowrap;left:260.70px;">Pending</div>
<div style="position:absolute;top:177px;font-size:5.25px;line-height:10px;color:#7a7a7a;white-space:nowrap;left:297.70px;">25/02/2019</div>
<div style="position:absolute;top:177px;font-size:5.25px;line-height:10px;color:#7a7a7a;white-space:nowrap;font-weight:400;right:430.20px;">0$</div>
<div style="position:absolute;left:386.70px;top:174.90px;width:16.70px;height:14.10px;background:#4bb6de;border-radius:1.2px;"></div>
<svg style="position:absolute;left:391.9px;top:179.65px;width:6.4px;height:4.6px" viewBox="0 0 72 48"><path d="M2 24C14 4 58 4 70 24C58 44 14 44 2 24Z" fill="#fff"/><circle cx="36" cy="24" r="6" fill="#bfe3f3"/></svg>
<div style="position:absolute;left:156.80px;top:193.30px;width:250.00px;height:0.70px;background:#ebebeb;"></div>
<div style="position:absolute;top:199px;font-size:5.25px;line-height:10px;color:#7a7a7a;white-space:nowrap;font-weight:400;right:606.00px;">37</div>
<div style="position:absolute;top:199px;font-size:5.25px;line-height:10px;color:#7a7a7a;white-space:nowrap;left:200.80px;">Vlad Gurio</div>
<div style="position:absolute;top:199px;font-size:5.25px;line-height:10px;color:#7a7a7a;white-space:nowrap;left:260.70px;">Pending</div>
<div style="position:absolute;top:199px;font-size:5.25px;line-height:10px;color:#7a7a7a;white-space:nowrap;left:297.70px;">25/02/2019</div>
<div style="position:absolute;top:199px;font-size:5.25px;line-height:10px;color:#7a7a7a;white-space:nowrap;font-weight:400;right:430.20px;">0$</div>
<div style="position:absolute;left:386.70px;top:197.10px;width:16.70px;height:14.10px;background:#4bb6de;border-radius:1.2px;"></div>
<svg style="position:absolute;left:391.9px;top:201.85px;width:6.4px;height:4.6px" viewBox="0 0 72 48"><path d="M2 24C14 4 58 4 70 24C58 44 14 44 2 24Z" fill="#fff"/><circle cx="36" cy="24" r="6" fill="#bfe3f3"/></svg>
<div style="position:absolute;left:156.80px;top:215.45px;width:250.00px;height:0.70px;background:#ebebeb;"></div>
<div style="position:absolute;top:221px;font-size:5.25px;line-height:10px;color:#7a7a7a;white-space:nowrap;font-weight:400;right:606.00px;">36</div>
<div style="position:absolute;top:221px;font-size:5.25px;line-height:10px;color:#7a7a7a;white-space:nowrap;left:200.80px;">Miklos Bloc</div>
<div style="position:absolute;top:221px;font-size:5.25px;line-height:10px;color:#7a7a7a;white-space:nowrap;left:260.70px;">Pending</div>
<div style="position:absolute;top:221px;font-size:5.25px;line-height:10px;color:#7a7a7a;white-space:nowrap;left:297.70px;">25/02/2019</div>
<div style="position:absolute;top:221px;font-size:5.25px;line-height:10px;color:#7a7a7a;white-space:nowrap;font-weight:400;right:430.20px;">0$</div>
<div style="position:absolute;left:386.70px;top:219.25px;width:16.70px;height:14.10px;background:#4bb6de;border-radius:1.2px;"></div>
<svg style="position:absolute;left:391.9px;top:224.00px;width:6.4px;height:4.6px" viewBox="0 0 72 48"><path d="M2 24C14 4 58 4 70 24C58 44 14 44 2 24Z" fill="#fff"/><circle cx="36" cy="24" r="6" fill="#bfe3f3"/></svg>
<div style="position:absolute;left:420.50px;top:96.70px;width:249.70px;height:138.30px;background:#fff;"></div>
<svg style="position:absolute;left:0;top:0;width:800px;height:450px" viewBox="0 0 800 450"><path d="M427.2 101.9V107.1H434.6" fill="none" stroke="#333" stroke-width="0.8"/><g fill="#333"><rect x="428.4" y="104.2" width="1.1" height="2.2"/><rect x="430" y="102.8" width="1.1" height="3.6"/><rect x="431.6" y="103.6" width="1.1" height="2.8"/><rect x="433.2" y="102.3" width="1.1" height="4.1"/></g></svg>
<div style="position:absolute;top:100px;font-size:6.8px;line-height:10px;color:#555;white-space:nowrap;left:440.00px;">Sales Analytics</div>
<svg style="position:absolute;left:652px;top:101.7px;width:8px;height:6.4px" viewBox="0 0 80 64"><rect x="4" y="8" width="72" height="52" rx="5" fill="none" stroke="#6e6e6e" stroke-width="7"/><rect x="4" y="8" width="72" height="15" fill="#6e6e6e"/><path d="M28 24V60M52 24V60M4 42H76" stroke="#999" stroke-width="4"/><rect x="18" y="0" width="8" height="14" fill="#6e6e6e"/><rect x="54" y="0" width="8" height="14" fill="#6e6e6e"/></svg>
<div style="position:absolute;left:661.2px;top:104.4px;width:0;height:0;border-left:1.7px solid transparent;border-right:1.7px solid transparent;border-top:2.1px solid #111"></div>
<svg style="position:absolute;left:0;top:0;width:800px;height:450px" viewBox="0 0 800 450"><line x1="442.07" y1="124.5" x2="442.07" y2="215.4" stroke="#e2e2e2" stroke-width="0.6"/><line x1="449.53" y1="124.5" x2="449.53" y2="215.4" stroke="#e2e2e2" stroke-width="0.6"/><line x1="457.00" y1="124.5" x2="457.00" y2="215.4" stroke="#e2e2e2" stroke-width="0.6"/><line x1="464.47" y1="124.5" x2="464.47" y2="215.4" stroke="#e2e2e2" stroke-width="0.6"/><line x1="471.93" y1="124.5" x2="471.93" y2="215.4" stroke="#e2e2e2" stroke-width="0.6"/><line x1="479.40" y1="124.5" x2="479.40" y2="215.4" stroke="#e2e2e2" stroke-width="0.6"/><line x1="486.87" y1="124.5" x2="486.87" y2="215.4" stroke="#e2e2e2" stroke-width="0.6"/><line x1="494.33" y1="124.5" x2="494.33" y2="215.4" stroke="#e2e2e2" stroke-width="0.6"/><line x1="501.80" y1="124.5" x2="501.80" y2="215.4" stroke="#e2e2e2" stroke-width="0.6"/><line x1="509.27" y1="124.5" x2="509.27" y2="215.4" stroke="#e2e2e2" stroke-width="0.6"/><line x1="516.73" y1="124.5" x2="516.73" y2="215.4" stroke="#e2e2e2" stroke-width="0.6"/><line x1="524.20" y1="124.5" x2="524.20" y2="215.4" stroke="#e2e2e2" stroke-width="0.6"/><line x1="531.67" y1="124.5" x2="531.67" y2="215.4" stroke="#e2e2e2" stroke-width="0.6"/><line x1="539.13" y1="124.5" x2="539.13" y2="215.4" stroke="#e2e2e2" stroke-width="0.6"/><line x1="546.60" y1="124.5" x2="546.60" y2="215.4" stroke="#e2e2e2" stroke-width="0.6"/><line x1="554.07" y1="124.5" x2="554.07" y2="215.4" stroke="#e2e2e2" stroke-width="0.6"/><line x1="561.53" y1="124.5" x2="561.53" y2="215.4" stroke="#e2e2e2" stroke-width="0.6"/><line x1="569.00" y1="124.5" x2="569.00" y2="215.4" stroke="#e2e2e2" stroke-width="0.6"/><line x1="576.47" y1="124.5" x2="576.47" y2="215.4" stroke="#e2e2e2" stroke-width="0.6"/><line x1="583.93" y1="124.5" x2="583.93" y2="215.4" stroke="#e2e2e2" stroke-width="0.6"/><line x1="591.40" y1="124.5" x2="591.40" y2="215.4" stroke="#e2e2e2" stroke-width="0.6"/><line x1="598.87" y1="124.5" x2="598.87" y2="215.4" stroke="#e2e2e2" stroke-width="0.6"/><line x1="606.33" y1="124.5" x2="606.33" y2="215.4" stroke="#e2e2e2" stroke-width="0.6"/><line x1="613.80" y1="124.5" x2="613.80" y2="215.4" stroke="#e2e2e2" stroke-width="0.6"/><line x1="621.27" y1="124.5" x2="621.27" y2="215.4" stroke="#e2e2e2" stroke-width="0.6"/><line x1="628.73" y1="124.5" x2="628.73" y2="215.4" stroke="#e2e2e2" stroke-width="0.6"/><line x1="636.20" y1="124.5" x2="636.20" y2="215.4" stroke="#e2e2e2" stroke-width="0.6"/><line x1="643.67" y1="124.5" x2="643.67" y2="215.4" stroke="#e2e2e2" stroke-width="0.6"/><line x1="651.13" y1="124.5" x2="651.13" y2="215.4" stroke="#e2e2e2" stroke-width="0.6"/><line x1="434.6" y1="192.68" x2="658.6" y2="192.68" stroke="#dcdcdc" stroke-width="0.6"/><line x1="434.6" y1="169.95" x2="658.6" y2="169.95" stroke="#dcdcdc" stroke-width="0.6"/><line x1="434.6" y1="147.23" x2="658.6" y2="147.23" stroke="#dcdcdc" stroke-width="0.6"/><rect x="434.60" y="183.59" width="7.47" height="31.81" fill="#9ec4ef" stroke="#5b8fd6" stroke-width="0.7"/><rect x="434.60" y="210.86" width="7.47" height="4.54" fill="#78aae8" fill-opacity="0.7"/><rect x="442.07" y="192.68" width="7.47" height="22.73" fill="#9ec4ef" stroke="#5b8fd6" stroke-width="0.7"/><rect x="442.07" y="210.86" width="7.47" height="4.54" fill="#78aae8" fill-opacity="0.7"/><rect x="449.53" y="183.59" width="7.47" height="31.81" fill="#9ec4ef" stroke="#5b8fd6" stroke-width="0.7"/><rect x="449.53" y="210.86" width="7.47" height="4.54" fill="#78aae8" fill-opacity="0.7"/><rect x="457.00" y="192.68" width="7.47" height="22.73" fill="#9ec4ef" stroke="#5b8fd6" stroke-width="0.7"/><rect x="457.00" y="210.86" width="7.47" height="4.54" fill="#78aae8" fill-opacity="0.7"/><rect x="464.47" y="192.68" width="7.47" height="22.73" fill="#9ec4ef" stroke="#5b8fd6" stroke-width="0.7"/><rect x="464.47" y="210.86" width="7.47" height="4.54" fill="#78aae8" fill-opacity="0.7"/><rect x="471.93" y="174.50" width="7.47" height="40.91" fill="#9ec4ef" stroke="#5b8fd6" stroke-width="0.7"/><rect x="471.93" y="210.86" width="7.47" height="4.54" fill="#78aae8" fill-opacity="0.7"/><rect x="479.40" y="174.50" width="7.47" height="40.91" fill="#9ec4ef" stroke="#5b8fd6" stroke-width="0.7"/><rect x="479.40" y="210.86" width="7.47" height="4.54" fill="#78aae8" fill-opacity="0.7"/><rect x="486.87" y="188.13" width="7.47" height="27.27" fill="#9ec4ef" stroke="#5b8fd6" stroke-width="0.7"/><rect x="486.87" y="210.86" width="7.47" height="4.54" fill="#78aae8" fill-opacity="0.7"/><rect x="494.33" y="188.13" width="7.47" height="27.27" fill="#9ec4ef" stroke="#5b8fd6" stroke-width="0.7"/><rect x="494.33" y="210.86" width="7.47" height="4.54" fill="#78aae8" fill-opacity="0.7"/><rect x="501.80" y="165.41" width="7.47" height="49.99" fill="#9ec4ef" stroke="#5b8fd6" stroke-width="0.7"/><rect x="501.80" y="210.86" width="7.47" height="4.54" fill="#78aae8" fill-opacity="0.7"/><rect x="509.27" y="188.13" width="7.47" height="27.27" fill="#9ec4ef" stroke="#5b8fd6" stroke-width="0.7"/><rect x="509.27" y="201.77" width="7.47" height="13.63" fill="#78aae8" fill-opacity="0.7"/><rect x="516.73" y="206.31" width="7.47" height="9.09" fill="#9ec4ef" stroke="#5b8fd6" stroke-width="0.7"/><rect x="516.73" y="210.86" width="7.47" height="4.54" fill="#78aae8" fill-opacity="0.7"/><rect x="524.20" y="160.86" width="7.47" height="54.54" fill="#9ec4ef" stroke="#5b8fd6" stroke-width="0.7"/><rect x="524.20" y="201.77" width="7.47" height="13.63" fill="#78aae8" fill-opacity="0.7"/><rect x="531.67" y="174.50" width="7.47" height="40.91" fill="#9ec4ef" stroke="#5b8fd6" stroke-width="0.7"/><rect x="531.67" y="210.86" width="7.47" height="4.54" fill="#78aae8" fill-opacity="0.7"/><rect x="539.13" y="160.86" width="7.47" height="54.54" fill="#9ec4ef" stroke="#5b8fd6" stroke-width="0.7"/><rect x="539.13" y="206.31" width="7.47" height="9.09" fill="#78aae8" fill-opacity="0.7"/><rect x="546.60" y="183.59" width="7.47" height="31.81" fill="#9ec4ef" stroke="#5b8fd6" stroke-width="0.7"/><rect x="546.60" y="210.86" width="7.47" height="4.54" fill="#78aae8" fill-opacity="0.7"/><rect x="554.07" y="197.22" width="7.47" height="18.18" fill="#9ec4ef" stroke="#5b8fd6" stroke-width="0.7"/><rect x="554.07" y="210.86" width="7.47" height="4.54" fill="#78aae8" fill-opacity="0.7"/><rect x="561.53" y="169.95" width="7.47" height="45.45" fill="#9ec4ef" stroke="#5b8fd6" stroke-width="0.7"/><rect x="561.53" y="206.31" width="7.47" height="9.09" fill="#78aae8" fill-opacity="0.7"/><rect x="569.00" y="179.04" width="7.47" height="36.36" fill="#9ec4ef" stroke="#5b8fd6" stroke-width="0.7"/><rect x="569.00" y="210.86" width="7.47" height="4.54" fill="#78aae8" fill-opacity="0.7"/><rect x="576.47" y="165.41" width="7.47" height="49.99" fill="#9ec4ef" stroke="#5b8fd6" stroke-width="0.7"/><rect x="576.47" y="206.31" width="7.47" height="9.09" fill="#78aae8" fill-opacity="0.7"/><rect x="583.93" y="188.13" width="7.47" height="27.27" fill="#9ec4ef" stroke="#5b8fd6" stroke-width="0.7"/><rect x="583.93" y="210.86" width="7.47" height="4.54" fill="#78aae8" fill-opacity="0.7"/><rect x="591.40" y="147.23" width="7.47" height="68.17" fill="#9ec4ef" stroke="#5b8fd6" stroke-width="0.7"/><rect x="591.40" y="210.86" width="7.47" height="4.54" fill="#78aae8" fill-opacity="0.7"/><rect x="598.87" y="197.22" width="7.47" height="18.18" fill="#9ec4ef" stroke="#5b8fd6" stroke-width="0.7"/><rect x="598.87" y="210.86" width="7.47" height="4.54" fill="#78aae8" fill-opacity="0.7"/><rect x="606.33" y="206.31" width="7.47" height="9.09" fill="#9ec4ef" stroke="#5b8fd6" stroke-width="0.7"/><rect x="606.33" y="210.86" width="7.47" height="4.54" fill="#78aae8" fill-opacity="0.7"/><rect x="434.6" y="124.5" width="224.00" height="90.90" fill="none" stroke="#6f6f6f" stroke-width="1.15"/></svg>
<div style="position:absolute;top:216px;font-size:3.9px;line-height:10px;color:#777;white-space:nowrap;font-weight:400;left:435.20px;transform:translateX(-50%);">01</div>
<div style="position:absolute;top:216px;font-size:3.9px;line-height:10px;color:#777;white-space:nowrap;font-weight:400;left:442.67px;transform:translateX(-50%);">02</div>
<div style="position:absolute;top:216px;font-size:3.9px;line-height:10px;color:#777;white-space:nowrap;font-weight:400;left:450.13px;transform:translateX(-50%);">03</div>
<div style="position:absolute;top:216px;font-size:3.9px;line-height:10px;color:#777;white-space:nowrap;font-weight:400;left:457.60px;transform:translateX(-50%);">04</div>
<div style="position:absolute;top:216px;font-size:3.9px;line-height:10px;color:#777;white-space:nowrap;font-weight:400;left:465.07px;transform:translateX(-50%);">05</div>
<div style="position:absolute;top:216px;font-size:3.9px;line-height:10px;color:#777;white-space:nowrap;font-weight:400;left:472.53px;transform:translateX(-50%);">06</div>
<div style="position:absolute;top:216px;font-size:3.9px;line-height:10px;color:#777;white-space:nowrap;font-weight:400;left:480.00px;transform:translateX(-50%);">07</div>
<div style="position:absolute;top:216px;font-size:3.9px;line-height:10px;color:#777;white-space:nowrap;font-weight:400;left:487.47px;transform:translateX(-50%);">08</div>
<div style="position:absolute;top:216px;font-size:3.9px;line-height:10px;color:#777;white-space:nowrap;font-weight:400;left:494.93px;transform:translateX(-50%);">09</div>
<div style="position:absolute;top:216px;font-size:3.9px;line-height:10px;color:#777;white-space:nowrap;font-weight:400;left:502.40px;transform:translateX(-50%);">10</div>
<div style="position:absolute;top:216px;font-size:3.9px;line-height:10px;color:#777;white-space:nowrap;font-weight:400;left:509.87px;transform:translateX(-50%);">11</div>
<div style="position:absolute;top:216px;font-size:3.9px;line-height:10px;color:#777;white-space:nowrap;font-weight:400;left:517.33px;transform:translateX(-50%);">12</div>
<div style="position:absolute;top:216px;font-size:3.9px;line-height:10px;color:#777;white-space:nowrap;font-weight:400;left:524.80px;transform:translateX(-50%);">13</div>
<div style="position:absolute;top:216px;font-size:3.9px;line-height:10px;color:#777;white-space:nowrap;font-weight:400;left:532.27px;transform:translateX(-50%);">14</div>
<div style="position:absolute;top:216px;font-size:3.9px;line-height:10px;color:#777;white-space:nowrap;font-weight:400;left:539.73px;transform:translateX(-50%);">15</div>
<div style="position:absolute;top:216px;font-size:3.9px;line-height:10px;color:#777;white-space:nowrap;font-weight:400;left:547.20px;transform:translateX(-50%);">16</div>
<div style="position:absolute;top:216px;font-size:3.9px;line-height:10px;color:#777;white-space:nowrap;font-weight:400;left:554.67px;transform:translateX(-50%);">17</div>
<div style="position:absolute;top:216px;font-size:3.9px;line-height:10px;color:#777;white-space:nowrap;font-weight:400;left:562.13px;transform:translateX(-50%);">18</div>
<div style="position:absolute;top:216px;font-size:3.9px;line-height:10px;color:#777;white-space:nowrap;font-weight:400;left:569.60px;transform:translateX(-50%);">19</div>
<div style="position:absolute;top:216px;font-size:3.9px;line-height:10px;color:#777;white-space:nowrap;font-weight:400;left:577.07px;transform:translateX(-50%);">20</div>
<div style="position:absolute;top:216px;font-size:3.9px;line-height:10px;color:#777;white-space:nowrap;font-weight:400;left:584.53px;transform:translateX(-50%);">21</div>
<div style="position:absolute;top:216px;font-size:3.9px;line-height:10px;color:#777;white-space:nowrap;font-weight:400;left:592.00px;transform:translateX(-50%);">22</div>
<div style="position:absolute;top:216px;font-size:3.9px;line-height:10px;color:#777;white-space:nowrap;font-weight:400;left:599.47px;transform:translateX(-50%);">23</div>
<div style="position:absolute;top:216px;font-size:3.9px;line-height:10px;color:#777;white-space:nowrap;font-weight:400;left:606.93px;transform:translateX(-50%);">24</div>
<div style="position:absolute;top:216px;font-size:3.9px;line-height:10px;color:#777;white-space:nowrap;font-weight:400;left:614.40px;transform:translateX(-50%);">25</div>
<div style="position:absolute;top:216px;font-size:3.9px;line-height:10px;color:#777;white-space:nowrap;font-weight:400;left:621.87px;transform:translateX(-50%);">26</div>
<div style="position:absolute;top:216px;font-size:3.9px;line-height:10px;color:#777;white-space:nowrap;font-weight:400;left:629.33px;transform:translateX(-50%);">27</div>
<div style="position:absolute;top:216px;font-size:3.9px;line-height:10px;color:#777;white-space:nowrap;font-weight:400;left:636.80px;transform:translateX(-50%);">28</div>
<div style="position:absolute;top:216px;font-size:3.9px;line-height:10px;color:#777;white-space:nowrap;font-weight:400;left:644.27px;transform:translateX(-50%);">29</div>
<div style="position:absolute;top:216px;font-size:3.9px;line-height:10px;color:#777;white-space:nowrap;font-weight:400;left:651.73px;transform:translateX(-50%);">30</div>
<div style="position:absolute;top:211px;font-size:3.6px;line-height:10px;color:#777;white-space:nowrap;font-weight:400;right:368.40px;">0</div>
<div style="position:absolute;top:188px;font-size:3.6px;line-height:10px;color:#777;white-space:nowrap;font-weight:400;right:368.40px;">5</div>
<div style="position:absolute;top:165px;font-size:3.6px;line-height:10px;color:#777;white-space:nowrap;font-weight:400;right:368.40px;">10</div>
<div style="position:absolute;top:143px;font-size:3.6px;line-height:10px;color:#777;white-space:nowrap;font-weight:400;right:368.40px;">15</div>
<div style="position:absolute;top:120px;font-size:3.6px;line-height:10px;color:#777;white-space:nowrap;font-weight:400;right:368.40px;">20</div>
<div style="position:absolute;left:630.50px;top:128.50px;width:4.30px;height:3.80px;background:#a9cdf2;border:0.4px solid #c8d8e8;box-sizing:border-box;"></div>
<div style="position:absolute;left:630.50px;top:135.50px;width:4.30px;height:3.90px;background:#1f45aa;"></div>
<div style="position:absolute;top:126px;font-size:3.9px;line-height:10px;color:#777;white-space:nowrap;left:635.80px;">Orders</div>
<div style="position:absolute;top:133px;font-size:3.9px;line-height:10px;color:#777;white-space:nowrap;left:635.80px;">Customers</div>
<div style="position:absolute;left:156.90px;top:245.30px;width:250.10px;height:138.50px;background:#fff;"></div>
<svg style="position:absolute;left:163.9px;top:250.3px;width:6px;height:6px" viewBox="0 0 60 60"><circle cx="30" cy="30" r="29" fill="#222"/><path d="M14 12Q24 8 30 14Q26 24 18 24Q12 20 14 12ZM36 30Q46 26 52 34Q50 44 42 48Q36 40 36 30Z" fill="#777"/></svg>
<div style="position:absolute;top:249px;font-size:7.1px;line-height:10px;color:#555;white-space:nowrap;left:174.90px;">World Map</div>
<div style="position:absolute;left:167.90px;top:272.20px;width:8.60px;height:7.60px;background:#111;border-radius:1px;"></div>
<div style="position:absolute;left:167.90px;top:284.90px;width:8.60px;height:7.60px;background:#111;border-radius:1px;"></div>
<svg style="position:absolute;left:0;top:0;width:800px;height:450px" viewBox="0 0 800 450"><path d="M170.8 276H173.6M172.2 274.6V277.4M170.8 288.7H173.6" stroke="#fff" stroke-width="0.8" fill="none"/></svg>
<svg style="position:absolute;left:0;top:0;width:800px;height:450px" viewBox="0 0 800 450"><path d="M202.8 278.4L205.4 275.8L207.4 275.6L209.8 274.5L211.8 274.2L213.4 275.4L215.5 277.1L217.3 278.3L219.0 279.7L220.7 279.5L223.2 279.4L224.1 280.5L226.0 280.7L227.2 282.0L228.0 283.4L229.8 283.8L230.9 283.6L232.0 284.2L233.2 284.7L235.0 285.1L236.1 284.8L236.8 283.7L238.3 282.0L238.5 283.6L238.9 284.9L239.6 285.3L240.9 284.6L241.4 284.4L242.7 284.7L242.4 285.9L241.7 287.2L240.5 287.7L239.6 287.6L238.9 288.6L238.0 289.4L237.0 289.5L235.5 290.4L234.3 291.7L233.4 293.3L234.1 293.6L233.8 294.8L235.0 295.0L235.7 295.6L236.9 296.5L238.1 296.8L237.6 298.2L238.0 299.4L238.8 299.4L239.3 298.4L239.4 297.2L240.7 296.5L241.5 295.6L241.2 294.5L241.9 293.1L242.1 291.7L243.9 292.0L244.6 292.9L245.4 293.4L245.2 295.0L246.0 295.6L247.2 294.7L247.8 294.4L248.4 295.7L248.7 297.1L249.3 298.2L249.9 298.9L250.3 299.9L250.1 300.5L248.8 300.6L247.9 301.2L246.4 301.1L244.6 300.9L243.5 301.7L244.8 301.6L245.5 301.8L245.4 302.4L244.8 302.7L245.2 303.7L246.4 304.1L246.8 304.4L247.5 303.6L247.1 304.4L245.5 305.0L244.2 305.7L244.1 304.9L244.8 304.4L243.8 304.5L242.9 305.0L242.1 305.4L241.6 306.3L241.8 307.0L241.0 307.1L239.6 307.6L239.4 308.5L238.6 309.2L238.1 310.4L238.1 311.6L237.2 312.3L236.0 313.0L234.8 314.2L234.3 315.3L234.7 317.0L234.9 318.0L234.6 318.8L234.0 318.2L233.5 317.0L233.4 316.2L232.8 315.6L232.1 315.7L231.3 315.2L230.3 315.3L229.9 316.0L229.1 315.8L227.8 315.5L227.0 315.7L225.9 316.6L225.6 317.8L225.3 320.0L225.6 321.3L226.2 322.3L227.0 322.9L228.3 322.7L229.1 322.1L229.3 321.2L230.5 320.9L231.1 321.1L230.8 322.2L230.5 322.9L230.1 324.4L231.5 324.6L232.5 324.8L232.9 325.1L232.7 326.9L232.6 328.0L233.2 329.1L233.7 329.5L234.6 329.3L235.1 329.1L235.9 329.7L236.0 330.6L235.4 330.7L235.6 329.9L234.8 329.6L234.4 330.5L233.7 330.3L232.9 329.9L232.6 329.4L231.9 328.7L231.5 328.0L230.6 326.5L230.1 326.3L229.0 325.8L228.1 325.3L227.2 324.2L225.8 324.4L224.5 323.7L223.2 323.1L222.0 322.4L221.1 321.4L221.3 320.4L220.7 319.2L219.9 318.0L219.2 317.1L218.7 316.2L217.9 315.1L217.6 313.6L216.8 312.9L216.5 314.3L217.1 315.4L217.9 316.8L218.3 318.2L219.1 319.1L218.8 319.3L217.8 318.0L216.8 316.3L216.3 314.7L215.9 313.0L215.8 311.9L215.3 310.8L214.4 310.2L214.1 308.2L214.1 307.3L213.8 305.3L214.2 303.1L215.1 300.1L215.4 298.3L216.2 298.3L216.2 299.0L216.4 297.9L215.5 297.0L214.7 296.0L215.0 294.9L214.9 293.2L214.8 292.0L214.5 290.6L214.3 289.3L213.3 288.6L212.5 288.2L211.2 287.6L210.2 286.5L208.8 286.7L207.6 287.3L206.5 287.3L207.7 285.8L206.1 286.7L205.0 287.6L203.2 288.2L201.6 288.9L199.7 289.2L198.3 289.3L199.5 288.7L201.2 288.2L203.2 287.3L203.9 286.7L202.7 286.4L202.1 285.6L201.5 284.9L201.6 283.1L202.5 281.8L204.2 281.5L205.2 280.6L204.3 280.3L203.1 279.6ZM250.6 289.1L248.7 291.6L247.5 292.8L246.2 292.2L245.1 291.1L244.0 290.0L242.8 289.3L244.9 288.7L246.0 287.0L244.7 285.3L243.6 284.6L241.7 283.8L240.2 282.9L240.5 280.8L242.9 280.4L244.4 281.0L245.8 282.2L247.5 283.9L248.8 285.5L249.8 288.0ZM227.3 281.9L228.8 282.9L231.0 283.2L233.8 283.6L234.7 282.2L234.2 279.5L232.3 278.7L230.3 277.7L228.4 278.9L227.8 281.0ZM225.2 278.5L226.7 279.3L229.4 277.8L230.4 276.5L228.9 275.6L227.0 275.7L225.6 277.4ZM242.4 276.6L246.2 277.9L247.8 276.6L249.8 275.1L253.3 274.0L256.2 272.7L255.6 271.3L252.3 270.4L248.3 270.3L245.1 270.8L243.2 271.8L243.1 273.4L243.9 275.0L243.5 276.3ZM239.3 277.9L241.2 278.9L244.4 279.7L245.7 278.7L244.2 277.4L241.6 276.4L239.7 276.6ZM230.4 275.4L233.0 276.9L235.4 276.6L235.9 275.2L233.6 274.5L231.3 274.2ZM236.0 281.0L237.6 281.4L239.3 280.5L239.3 279.2L237.2 278.9L235.6 279.6ZM238.3 290.0L239.8 291.2L241.2 290.5L240.2 288.4L238.9 288.6ZM247.9 302.8L249.5 303.6L251.0 303.7L251.3 303.1L250.8 301.9L249.9 301.5L250.3 300.5L249.2 301.1L248.5 302.0ZM214.2 296.1L215.4 296.7L215.9 298.2L215.2 297.9L214.2 296.8ZM253.5 276.2L256.0 275.0L257.6 273.9L259.7 273.3L262.5 273.2L265.2 272.9L267.2 273.4L268.8 275.1L270.8 275.8L269.0 277.3L269.2 279.1L268.4 281.2L267.9 282.9L267.9 284.6L266.9 285.9L266.9 287.5L265.9 288.3L264.2 289.3L263.1 290.2L261.6 291.1L260.5 291.7L259.8 293.4L259.0 295.8L258.2 295.7L257.4 294.9L256.9 293.5L256.7 291.7L256.3 289.8L256.8 288.1L257.6 287.3L256.9 286.2L256.9 284.3L256.7 281.9L255.9 279.9L254.5 279.6L253.6 278.4L253.6 277.1ZM266.8 291.5L267.8 292.8L269.1 293.4L271.0 292.8L271.7 291.9L271.1 291.0L269.8 291.0L268.4 291.4L267.6 290.7ZM235.4 329.9L236.1 329.3L236.4 328.3L237.0 328.1L237.8 327.8L238.5 327.2L238.7 328.2L238.6 328.5L239.4 327.7L239.5 327.3L240.3 328.4L241.5 328.5L242.3 328.8L243.7 328.5L244.2 329.3L244.7 330.0L245.5 331.1L246.3 331.8L247.9 331.9L249.0 332.7L249.5 333.2L250.0 334.7L249.7 335.9L250.8 336.5L252.2 336.6L253.0 337.3L254.6 337.5L255.7 337.7L256.8 338.5L258.0 338.8L258.3 340.1L258.0 341.2L257.1 342.0L256.3 343.1L256.1 344.5L256.0 345.9L255.4 347.4L255.1 348.4L254.0 349.1L253.0 349.7L251.7 350.6L251.1 351.7L251.0 353.1L250.2 354.5L249.6 355.8L248.9 357.0L248.2 357.7L247.1 357.5L246.3 357.1L247.2 358.7L247.2 360.0L246.5 360.5L245.0 360.8L245.1 362.0L243.7 362.4L244.1 363.4L244.0 364.9L243.0 366.1L244.0 366.9L243.4 368.7L242.9 369.5L243.5 370.8L244.0 371.4L245.5 372.4L244.9 372.9L243.7 372.9L242.5 372.1L241.1 371.1L239.9 369.7L239.3 367.9L239.5 366.4L239.7 364.5L239.1 363.1L239.1 361.6L238.8 359.9L239.1 358.6L239.3 356.8L238.9 354.7L239.2 352.9L239.4 351.0L239.5 348.9L239.4 346.5L238.7 345.9L237.3 345.2L236.1 344.1L235.5 342.9L234.8 341.5L234.0 340.2L233.2 339.4L233.2 338.6L233.7 337.9L233.3 337.2L233.7 336.2L233.8 335.3L234.4 334.8L234.6 334.0L235.3 333.1L235.2 331.6L235.3 330.9L235.0 330.8ZM274.6 312.9L276.1 313.2L277.1 313.1L278.2 312.3L279.2 312.0L280.8 312.0L282.9 311.7L283.4 311.9L283.2 313.1L282.9 314.0L283.5 314.8L284.3 315.1L285.6 315.4L285.9 316.0L287.0 316.5L288.0 316.8L288.3 316.0L288.2 315.3L289.3 314.9L290.4 315.6L290.9 315.9L292.2 316.2L293.1 316.4L294.1 315.9L294.8 316.1L295.0 317.0L295.5 318.2L296.1 319.3L296.6 320.5L296.7 321.1L297.5 322.2L297.6 323.4L298.3 324.0L298.8 325.5L299.7 325.9L300.5 327.1L300.9 327.4L300.9 328.1L301.6 328.8L302.9 328.3L304.0 328.2L305.2 327.8L305.1 328.8L304.6 330.4L304.1 331.8L303.5 332.8L302.5 334.2L301.4 335.2L300.3 336.3L299.8 337.0L299.2 337.8L298.8 338.5L298.6 339.5L298.9 340.3L299.1 341.4L299.4 341.9L299.4 343.9L299.1 344.8L298.0 345.5L297.4 345.9L296.4 346.9L296.6 348.3L296.6 349.7L295.3 350.7L295.2 351.4L295.0 352.8L294.2 353.8L293.6 354.7L292.4 355.7L291.3 356.4L289.8 356.5L288.1 357.0L287.3 356.6L287.2 355.4L286.8 353.7L286.4 352.6L285.7 351.3L285.4 349.6L285.3 348.5L284.6 346.8L284.0 345.7L284.0 344.6L284.2 343.5L284.9 342.7L285.0 341.9L284.6 340.8L284.3 339.2L284.1 338.6L283.6 338.1L282.8 337.3L282.5 336.3L282.8 335.2L282.9 333.9L282.8 333.2L282.2 332.9L281.4 333.0L280.6 332.7L280.1 331.8L279.0 331.7L278.2 332.0L277.1 332.4L276.6 332.7L275.7 332.4L274.7 332.6L273.6 333.0L272.8 332.6L271.8 331.6L270.9 330.9L270.5 330.2L270.4 329.4L269.6 328.5L268.7 327.5L268.6 326.9L268.2 326.1L268.8 325.3L268.9 324.1L268.9 323.2L268.5 322.4L268.8 321.5L269.1 320.8L269.7 319.8L270.4 318.9L271.0 318.3L271.8 317.9L272.3 317.5L272.5 316.4L272.9 315.3L273.7 314.5L274.2 313.8ZM304.2 342.6L304.6 344.6L304.2 345.7L303.6 347.4L303.0 349.9L302.5 350.7L301.7 350.9L301.1 349.8L300.8 348.4L301.4 347.0L301.2 345.6L301.8 344.8L302.9 344.3L303.4 343.4ZM274.7 312.7L274.3 312.1L273.8 311.9L273.0 311.9L273.1 310.8L272.8 310.6L273.2 309.0L273.1 307.8L272.9 307.5L273.6 306.9L274.9 307.0L275.9 307.1L276.8 307.2L277.1 306.3L277.1 305.2L276.6 304.4L275.5 304.0L275.3 303.6L276.2 303.4L276.9 303.5L276.8 302.8L277.2 303.0L277.8 303.0L278.5 302.6L278.5 302.1L278.9 302.0L279.4 301.8L279.8 301.4L280.0 300.8L280.4 300.6L281.1 300.5L281.8 300.3L281.9 300.0L281.9 299.3L281.6 298.6L281.7 298.3L282.2 298.2L282.7 297.9L282.6 298.6L282.9 298.9L282.4 299.4L282.5 299.7L283.0 300.0L283.1 300.2L283.5 300.0L284.3 299.9L284.7 300.2L285.5 299.9L286.4 299.6L286.7 299.8L287.2 299.8L287.4 299.5L287.8 299.3L287.7 298.5L287.9 297.9L288.4 297.7L288.8 298.2L289.3 298.0L289.2 297.3L288.8 297.1L288.7 296.8L289.7 296.5L290.8 296.5L291.7 296.2L291.0 295.8L289.8 295.9L288.5 296.4L288.0 296.0L287.6 295.5L287.5 294.2L287.9 293.5L288.8 292.4L289.1 291.8L288.7 291.4L287.8 291.3L287.4 292.3L287.1 293.1L286.2 293.8L285.7 295.1L285.7 295.8L286.5 296.4L286.3 296.8L285.7 297.2L285.6 297.9L285.4 298.8L284.7 298.9L284.6 299.3L284.0 299.3L283.8 298.8L283.3 298.0L283.0 297.1L282.7 296.8L282.2 297.1L281.5 297.7L281.0 297.7L280.4 297.2L280.1 296.5L280.1 295.2L280.3 294.6L281.0 293.9L281.6 293.4L282.3 292.9L282.9 292.2L283.3 291.3L283.7 290.3L284.3 289.4L284.9 288.8L285.5 288.2L286.4 287.7L287.2 287.5L288.2 286.8L289.2 286.6L290.1 286.9L291.0 287.2L290.7 287.8L292.0 287.9L293.3 288.1L295.3 289.1L296.0 289.9L295.5 290.5L294.2 290.5L293.0 290.3L292.4 290.3L293.2 291.0L293.5 292.1L294.5 292.6L294.9 292.2L295.8 291.9L295.9 291.1L296.4 290.2L297.3 290.3L297.2 289.2L296.8 288.3L297.8 288.5L298.3 289.5L298.9 289.6L299.6 288.5L300.8 287.9L301.5 288.0L302.5 287.6L303.6 287.7L303.8 286.6L305.4 286.6L306.3 286.8L307.4 287.3L307.6 286.7L306.7 285.8L306.2 284.9L306.5 283.9L306.6 282.7L307.7 282.8L308.4 284.1L308.9 286.4L309.7 286.7L309.4 285.8L309.2 283.9L309.0 282.7L310.4 282.9L311.4 282.5L311.0 281.3L313.2 280.5L313.2 279.0L314.6 277.6L316.7 276.5L317.0 274.9L318.0 274.1L319.1 274.5L320.3 274.8L322.0 274.6L323.5 275.3L324.2 277.5L323.0 278.1L324.3 277.8L326.5 277.6L328.8 277.5L330.7 277.6L332.6 278.9L333.4 278.9L333.8 277.9L335.1 277.5L336.3 277.1L336.2 275.8L338.3 275.3L340.8 275.2L342.2 275.8L344.2 275.0L346.2 275.5L346.7 275.9L348.7 275.3L349.8 274.5L351.4 274.9L350.7 273.8L353.2 273.1L355.5 273.3L358.2 273.9L360.7 274.3L362.4 274.8L362.2 276.3L362.4 277.1L360.1 277.3L358.3 276.4L358.2 277.8L358.3 278.6L358.9 280.7L357.8 282.1L357.1 284.4L355.2 285.0L354.3 285.7L354.6 287.1L355.2 288.3L355.7 289.6L355.8 291.4L355.6 292.4L355.2 293.4L353.7 291.9L352.5 290.0L351.8 288.3L352.2 286.8L352.6 285.2L352.8 282.9L351.7 284.3L350.0 284.6L350.0 286.8L349.2 287.6L347.3 287.7L344.7 288.6L344.0 289.8L343.5 291.2L343.1 292.8L344.4 293.2L345.3 292.9L346.4 293.4L347.2 295.1L347.9 297.0L347.5 298.7L346.7 300.7L345.6 302.4L344.6 302.8L344.2 303.8L344.3 304.7L343.5 305.7L344.9 307.3L345.3 308.8L344.7 309.5L344.1 310.0L343.7 308.8L343.6 307.5L342.5 307.1L342.2 305.9L341.7 305.5L340.4 305.0L340.1 305.0L339.2 306.5L338.6 306.9L339.4 308.0L340.3 307.9L341.4 308.2L340.6 309.0L340.2 310.0L341.1 311.2L342.2 312.6L342.4 313.7L342.4 315.2L341.7 316.6L341.0 317.9L340.2 318.8L338.9 319.5L338.1 319.9L336.8 320.5L336.5 321.1L335.7 320.3L334.9 320.8L334.4 321.8L334.8 323.1L335.8 324.0L336.3 325.8L336.4 327.1L335.2 328.2L334.3 329.4L334.1 328.5L333.3 328.0L332.8 327.0L331.9 326.5L331.5 326.0L331.4 327.1L331.2 328.2L331.5 329.3L332.1 330.7L332.9 331.8L333.5 332.9L334.0 334.8L333.6 334.9L332.5 333.8L331.9 332.6L331.7 331.3L331.0 330.2L330.6 329.7L330.6 328.2L330.6 326.7L330.2 324.9L330.0 324.0L329.2 324.2L328.4 324.3L328.2 323.1L327.7 321.8L326.9 320.9L326.6 320.3L325.8 320.6L325.0 320.8L324.2 321.3L324.0 322.0L323.2 322.3L322.4 323.3L321.6 324.3L320.7 324.9L320.6 326.7L320.6 328.6L319.8 329.5L319.4 330.2L318.8 329.5L318.5 328.5L318.0 327.1L317.6 325.3L317.0 323.8L316.6 322.6L316.6 321.7L316.2 321.6L315.4 321.8L314.7 321.0L315.2 320.6L314.3 320.2L313.6 319.6L313.2 319.1L311.8 319.2L310.5 319.4L309.1 319.2L308.2 318.7L307.8 318.4L306.7 318.7L305.7 318.1L304.8 317.4L304.3 316.6L303.6 316.4L303.2 316.9L303.5 317.6L304.3 318.6L304.5 319.2L304.9 319.2L305.2 319.7L305.2 320.1L306.0 320.1L306.8 319.9L307.5 318.9L307.8 319.6L308.1 320.2L309.0 320.4L309.6 321.0L309.0 322.2L308.6 323.2L307.9 323.8L307.1 324.4L305.8 325.0L304.0 326.2L302.4 326.9L301.8 327.2L301.0 327.3L300.6 326.1L300.4 324.8L299.6 323.4L298.6 322.2L298.4 321.0L297.7 320.2L297.1 319.3L296.3 318.1L296.2 317.3L295.9 318.1L295.2 317.6L295.0 317.0L294.9 316.1L295.8 316.0L296.1 314.9L296.3 313.6L296.5 312.6L296.4 311.8L295.6 311.9L294.6 312.4L293.6 311.9L292.8 312.2L292.0 311.8L291.7 310.8L291.3 310.1L291.4 309.3L292.6 309.1L292.6 308.6L293.8 308.5L294.8 307.9L295.7 307.9L296.4 308.4L297.5 308.7L298.5 308.5L299.0 308.1L298.9 307.2L297.9 306.7L297.0 306.0L296.5 305.4L296.9 304.7L297.4 303.9L296.6 304.1L295.6 304.5L295.4 305.1L296.2 305.4L295.7 305.6L294.8 306.1L294.1 305.4L294.6 304.9L293.7 304.5L293.1 305.0L292.7 305.5L292.3 306.1L292.0 307.3L291.9 308.0L292.3 308.5L291.8 308.9L291.0 308.9L290.3 309.0L289.8 309.6L289.4 309.3L289.6 310.2L290.1 311.1L289.6 311.3L289.8 312.2L289.3 312.2L288.8 311.5L288.5 310.4L287.7 309.3L287.7 308.3L287.1 307.8L285.8 307.1L285.3 305.9L284.6 305.5L284.0 305.7L283.9 306.5L284.6 307.1L284.9 307.9L285.9 308.2L287.2 309.5L287.1 309.7L286.4 309.3L286.2 309.9L286.5 310.5L286.0 311.2L285.8 311.2L285.9 310.0L285.7 309.5L284.9 309.1L284.0 308.4L283.0 307.5L282.8 306.7L282.2 306.4L281.5 306.9L280.7 307.4L280.0 307.2L279.3 307.3L279.3 308.2L278.7 308.8L277.9 309.4L277.5 310.1L277.8 310.6L277.3 311.4L276.6 312.1L275.3 312.2ZM338.4 349.9L338.5 353.0L338.9 356.1L338.9 357.7L338.1 359.4L339.5 360.1L340.8 359.4L342.6 359.6L344.3 358.4L346.0 358.1L347.4 358.1L348.4 359.4L348.7 360.9L350.2 359.6L349.9 361.6L350.5 362.1L350.6 363.8L351.9 364.7L353.3 365.0L354.5 364.1L355.8 363.6L357.1 361.2L358.4 359.7L359.5 357.2L359.4 354.7L358.4 352.5L357.6 351.2L356.4 349.2L355.9 348.1L355.7 346.7L355.7 345.9L354.8 345.5L354.3 343.2L353.8 344.6L353.6 346.3L353.1 347.6L352.2 347.4L351.2 346.4L350.4 345.7L350.7 344.8L351.2 344.0L350.2 343.8L349.2 343.4L348.1 343.9L347.5 344.7L347.2 345.6L346.4 345.6L345.6 344.9L344.7 345.9L343.9 346.8L343.2 347.4L342.5 348.3L340.8 348.8L339.7 349.1L338.6 349.8ZM352.0 366.4L353.8 366.7L353.2 368.5L352.3 368.9L351.9 367.9ZM369.7 364.0L370.0 365.7L370.4 366.9L371.6 367.2L370.4 368.5L369.9 369.6L368.8 370.4L368.8 369.4L368.7 368.3L369.6 367.2L369.9 366.1ZM367.8 369.3L368.2 370.4L367.2 371.7L366.0 372.5L365.2 373.8L363.9 374.2L363.0 373.5L363.9 372.5L364.9 371.8L366.3 370.8L367.3 369.6ZM348.5 336.4L350.1 336.4L350.6 338.1L352.0 337.0L353.8 337.6L355.7 338.5L356.4 339.6L357.3 340.5L356.9 340.7L357.4 341.7L358.6 343.1L357.3 342.9L356.3 341.7L355.2 341.1L354.7 342.0L353.6 342.0L352.5 341.2L352.0 341.4L352.3 340.6L352.1 339.6L350.8 338.7L349.4 338.5L349.3 337.7ZM336.5 334.4L337.4 334.6L337.9 333.9L338.9 332.9L340.0 332.0L340.7 330.6L341.8 331.9L341.2 332.9L341.4 334.4L341.2 335.5L340.6 336.8L340.4 338.2L339.5 338.4L338.1 338.0L337.2 337.6L336.6 336.2ZM329.0 331.8L330.2 332.1L331.7 333.7L332.8 334.8L333.6 335.9L334.1 337.1L334.9 337.9L334.7 339.5L334.0 339.4L332.9 338.3L332.0 337.1L331.2 335.8L330.3 334.3L329.2 332.4ZM334.4 340.0L336.1 339.9L337.5 340.1L339.3 340.6L339.3 341.3L337.4 341.1L335.8 340.7L334.8 340.3ZM339.9 341.0L341.7 341.2L343.9 341.3L345.0 341.6L346.1 341.3L344.7 342.4L342.2 342.0L340.1 341.5ZM342.3 335.5L343.1 335.0L344.9 334.9L345.2 335.5L343.4 335.7L342.8 336.5L344.1 336.5L343.3 337.2L344.0 338.8L343.5 339.2L343.0 337.8L342.6 339.4L342.1 339.3L342.2 337.8ZM342.2 322.0L343.1 322.0L343.1 323.7L342.9 324.8L344.3 325.9L344.0 326.1L342.7 325.5L342.4 324.8L342.0 323.7ZM343.3 326.8L344.3 327.0L345.2 327.4L344.9 328.2L343.9 328.6L343.5 327.8ZM343.4 330.5L344.2 329.3L345.2 328.5L345.8 330.1L345.6 331.1L344.8 331.3ZM340.8 329.5L341.9 327.6L341.9 328.3L341.1 329.6ZM346.5 310.2L347.0 308.9L348.5 308.5L348.8 307.0L349.7 306.8L350.0 305.2L349.7 303.9L350.2 303.0L351.0 304.6L350.8 306.0L351.2 307.8L351.0 308.7L350.3 309.1L349.6 309.3L349.2 310.3L348.5 309.5L347.6 309.9L346.5 310.2ZM346.1 311.0L346.6 310.4L347.3 311.0L348.2 309.8L348.5 310.2L347.9 311.1L347.3 311.4L347.2 312.6L346.7 312.6L346.2 311.4ZM349.5 303.0L349.6 301.6L349.4 299.4L350.6 300.3L351.8 300.9L351.1 302.3L350.0 302.0L349.6 302.5ZM346.4 292.5L347.5 293.3L349.0 295.6L349.9 296.2L349.6 297.9L349.4 298.9L348.9 297.2L348.2 295.3L347.1 293.8ZM342.3 317.4L342.8 317.7L342.3 319.6L341.9 319.0ZM335.9 321.9L336.8 321.3L337.1 321.6L336.3 322.5ZM320.6 329.0L321.4 329.9L321.7 330.9L321.1 331.6L320.7 330.9ZM275.0 302.6L276.0 302.5L277.2 302.2L278.4 301.9L278.5 301.0L277.9 300.8L277.6 300.2L277.0 299.6L276.8 299.0L276.3 299.0L276.8 298.0L276.1 297.9L276.3 297.4L275.4 297.3L275.0 298.0L275.1 298.6L274.9 299.1L275.3 299.3L275.4 299.7L276.2 299.7L276.3 300.5L275.5 300.6L275.7 301.1L275.2 301.5L276.0 301.7L276.2 301.9L275.5 302.0ZM272.8 301.6L273.8 301.6L274.6 301.3L274.8 300.5L275.1 299.9L274.7 299.4L273.9 299.4L273.6 299.9L272.9 300.0L272.9 300.6L273.1 301.1ZM299.5 285.4L300.3 285.9L302.0 285.8L301.2 284.1L300.8 282.4L302.0 280.5L303.9 278.9L304.7 278.4L304.1 279.5L302.3 281.6L301.3 282.9L300.2 283.7L300.0 284.9ZM282.0 277.8L283.2 279.4L284.1 280.7L285.2 279.9L286.0 278.7L287.2 277.5L287.8 276.7L285.2 276.5L283.0 277.2ZM295.0 275.8L298.1 275.7L300.4 274.5L299.2 273.5L295.9 274.8ZM313.9 273.4L315.9 273.8L316.8 272.5L314.6 271.1L312.7 270.9L312.0 272.6ZM332.9 272.5L335.6 272.7L337.3 271.4L338.1 270.6L336.0 270.6L333.6 271.5ZM353.3 271.4L354.6 270.4L355.2 270.9L353.8 271.6ZM232.2 320.7L233.8 320.0L235.1 320.3L236.4 321.2L237.5 321.7L237.9 322.1L236.1 322.2L235.9 321.7L234.8 321.0L233.8 320.5ZM237.8 323.2L238.5 322.3L240.1 322.4L241.0 323.2L239.8 323.4L239.3 323.7L238.5 323.3ZM235.7 323.1L236.7 323.3L236.4 323.5ZM241.6 323.3L242.5 323.3L242.3 323.6L241.6 323.6ZM284.2 311.2L285.8 310.9L285.6 312.1L284.4 311.8ZM281.9 309.0L282.7 309.0L282.6 310.3L282.1 310.5ZM282.1 307.8L282.5 307.5L282.5 308.6L282.2 308.5ZM294.6 313.2L295.7 312.7L295.4 313.4ZM290.0 313.0L291.4 313.2L290.5 313.4ZM247.0 369.8L248.5 369.7L248.2 370.3ZM194.1 319.3L194.6 319.7L194.3 320.3L194.1 319.9ZM365.5 350.3L367.0 352.2L366.7 352.3L365.4 350.9ZM372.7 348.9L373.4 349.0L373.2 349.4L372.7 349.3ZM361.7 340.6L363.8 342.2L364.6 343.2L363.8 342.7L362.0 341.1ZM357.8 339.7L359.7 338.9L359.8 339.4L358.5 340.2ZM198.6 289.2L196.1 289.6L193.6 289.9L191.3 289.9L189.2 289.5L187.4 288.7L186.2 287.9L186.1 288.0L187.3 288.9L189.0 289.7L191.1 290.1L193.4 290.1L195.9 289.8L198.4 289.4Z" fill="#9fd0f3" stroke="#9fd0f3" stroke-width="0.35" stroke-linejoin="round"/><path d="M301.5 305.3L302.4 304.0L303.4 303.8L304.4 304.0L304.3 305.2L303.6 305.6L303.4 306.8L304.5 307.5L305.2 308.6L305.1 309.7L305.7 310.9L304.8 311.5L303.7 311.1L303.1 310.2L303.1 308.7L302.5 307.6L301.9 306.5Z" fill="#fff"/><path d="M242.0 348.8L243.6 348.7L246.1 350.4L246.4 352.2L247.4 352.4L248.2 351.1L248.4 352.1L246.3 354.4L246.3 356.8L246.3 357.1L247.2 358.7L247.2 360.0L246.5 360.5L245.0 360.8L245.1 362.0L243.7 362.4L244.1 363.4L244.0 364.9L243.0 366.1L244.0 366.9L243.4 368.7L242.9 369.5L243.5 370.8L244.0 371.4L245.5 372.4L244.1 372.7L243.5 370.9L241.7 370.6L240.7 368.9L240.9 366.3L240.5 364.1L240.2 361.9L240.4 359.6L240.1 356.8L239.9 354.6L240.5 352.4L240.4 350.6L241.2 349.5Z" fill="#adc6f2"/><path d="M217.3 278.3L212.3 287.6L213.3 289.1L214.7 289.0L214.8 290.3L215.5 292.2M216.3 297.9L230.3 300.0L233.1 301.1L235.1 302.4L235.9 303.7L235.3 305.9L237.4 305.3L238.8 304.8L239.9 304.1L241.7 304.3L243.0 302.7L243.6 302.9L243.8 304.5M215.8 312.1L217.0 312.2L218.8 313.4L220.4 313.4L221.2 313.2L221.9 315.1L222.7 315.5L223.6 315.1L224.6 316.7L225.7 317.8M228.1 325.3L228.8 324.4L228.8 323.2L229.8 323.2L230.3 322.9M249.8 333.0L248.2 334.3L247.1 334.5L246.0 335.0L245.3 332.4L243.1 333.1L242.2 335.2L241.4 334.5L240.1 335.2L239.8 338.3L238.3 340.0L238.1 341.4L239.7 342.3L240.8 342.2L242.5 341.6L244.6 343.6L245.4 345.0L246.5 345.8L246.7 347.3L246.6 348.7L247.8 348.8L248.5 350.0L248.5 351.1M249.0 352.1L247.9 353.1L247.0 354.4L247.9 355.0L249.5 356.8M240.1 335.2L241.5 331.7L238.8 330.8L238.6 328.1M245.3 332.4L244.8 330.0M235.0 334.8L236.8 335.9L237.0 336.5L239.8 338.3M234.3 337.9L235.3 338.8L237.0 336.5M240.0 346.5L240.4 346.0L240.6 344.8L240.8 342.2M240.4 346.0L241.2 347.4L241.8 349.5L244.2 348.7L246.6 347.3M290.0 287.6L291.3 291.8L291.3 294.9L290.8 296.5L290.8 297.8L291.1 298.7L292.7 299.2L293.2 301.0L295.0 301.6L296.7 302.3L297.7 303.4L296.9 303.9M301.0 302.9L301.1 301.9L302.8 300.8L304.9 301.0L306.9 301.0L307.6 299.1L309.1 298.3L310.9 297.6L312.1 298.2L314.6 298.1L315.5 298.5L317.5 299.8L319.1 299.8L321.3 300.6M321.5 300.6L323.3 299.2L325.9 298.0L328.5 298.7L331.0 298.7L333.5 298.7L335.8 298.1L338.0 299.9L336.1 300.6L334.5 302.3L334.2 303.4L331.5 305.2L328.8 304.9L326.8 304.9L323.8 303.3L323.4 301.9L321.5 300.6M335.8 298.1L336.5 295.9L336.9 295.2L339.3 295.2L341.2 297.1L343.4 298.4L345.2 297.6L345.1 300.5L344.1 300.9L344.5 302.6M321.5 300.6L320.7 302.2L319.4 303.7L318.6 306.0L316.8 307.8L315.8 308.7L316.6 310.4L318.0 311.7L319.4 314.0L320.8 315.7L323.0 316.8L324.7 317.0L325.1 317.3L326.7 316.9L328.8 315.8L329.6 316.3L330.3 318.1L329.9 319.1L330.9 320.4L332.0 320.8L332.2 319.9L334.1 319.4L334.7 320.1L335.4 320.4M314.1 320.1L315.6 319.6L315.0 317.6L316.5 316.1L317.2 314.9L317.0 313.7L316.5 312.3L318.0 311.7M310.5 319.4L310.2 316.8L309.7 313.4L309.5 311.4L307.2 310.2L305.7 310.9M300.4 309.6L301.5 310.1L302.8 310.3M303.2 316.9L301.9 314.5L301.4 312.4L300.8 311.3L300.4 309.6L300.0 308.3M309.5 311.4L311.5 310.7L313.1 310.8L314.9 310.7L316.6 310.4M310.2 316.8L312.8 316.4L314.7 314.6L314.9 311.1M304.4 304.0L305.5 305.1L306.4 307.9L309.0 307.7L311.5 307.4L313.1 307.7L314.0 306.4L316.0 306.0L318.6 306.0M326.9 320.9L327.6 319.3L328.4 317.9L329.6 316.3M324.7 317.0L324.6 318.2L325.4 318.1L326.8 318.7L326.6 320.3M330.5 323.9L330.7 322.0L331.7 320.8M332.8 327.0L334.0 325.3L335.4 325.1L335.3 323.4M332.0 320.8L331.5 321.6L332.3 322.9L333.7 323.1L335.4 325.1M290.9 315.9L291.0 321.8L297.4 321.6M291.0 321.8L290.5 323.2L290.5 325.4L289.7 326.5L289.7 328.5L290.6 330.0L292.5 332.5L294.1 333.3L296.0 333.1L296.8 332.4M283.7 314.8L282.7 317.0L283.0 319.2L284.1 321.0L285.4 321.4L286.2 321.0L290.5 323.2M284.1 321.0L279.9 323.5L279.9 324.9L279.4 325.6L277.7 325.9L276.0 326.9L274.7 328.9M273.0 318.7L275.1 320.1L278.3 322.4L279.3 323.3L279.9 323.5M270.7 318.5L273.0 318.5L273.0 318.7L273.0 319.5L271.2 319.5L271.2 320.9L270.7 321.2L270.7 322.2L268.5 322.2M274.7 320.1L274.2 320.1L274.7 325.3L274.7 325.6L271.5 325.6L271.1 326.1L271.5 327.6M285.7 321.2L286.2 322.7L286.0 324.8L284.9 326.2L285.4 327.4L285.2 328.6L286.0 329.2L285.7 330.9L286.3 333.2L286.4 334.4M279.9 324.9L281.4 326.9L283.0 327.0L284.9 326.2M279.1 331.7L279.6 328.2L279.9 326.9L281.4 326.9M282.8 333.2L282.4 331.9L284.0 331.2L284.8 329.2L285.2 328.6M289.7 328.5L287.9 329.9L286.0 330.9M292.5 332.5L289.8 333.1L287.7 333.6L287.3 335.9L286.4 337.1L285.5 338.5L284.3 339.1M286.4 334.4L284.8 334.4L283.7 334.4L283.7 335.2L282.9 335.2M284.6 339.1L286.6 339.1L286.8 340.3L289.5 340.3L289.5 341.9L290.6 341.9L290.5 343.0L289.5 343.0L289.4 344.8L290.2 345.5M290.6 341.9L292.4 342.6L293.2 343.3L293.0 341.1L294.2 340.4L293.4 338.3L293.6 336.7L294.4 334.4L294.1 333.3M294.2 340.4L295.4 341.1L296.2 342.2L297.8 342.4L299.4 341.7M296.0 336.5L298.0 337.6L298.8 338.5M296.0 336.5L296.0 333.1M296.8 332.4L298.2 333.5L299.8 333.3L300.3 333.1L301.9 332.5L303.5 330.4L300.8 328.4M299.8 336.8L299.8 334.0L299.8 333.3M297.4 321.6L297.5 324.0L297.2 326.1L298.3 324.0M297.2 326.1L295.9 328.5L295.4 330.5L296.0 333.1M300.4 327.4L299.1 326.1L297.2 326.1M284.0 345.3L285.2 345.4L287.6 345.4L290.2 345.5L291.2 345.7M288.3 352.7L288.3 348.2L288.9 348.2L288.9 345.9M288.3 352.7L286.4 352.7M288.3 350.3L289.9 350.5L291.5 350.1L293.4 348.4L294.4 348.6L294.7 351.6M291.2 345.7L292.1 345.8L293.2 344.5L294.0 344.5L295.4 343.6L296.2 342.2M293.4 348.4L292.4 347.2L291.2 345.7M294.0 344.5L295.3 345.3L296.3 346.8M273.1 307.5L274.4 308.3L274.1 310.5L273.8 311.8M276.8 307.2L278.2 307.8L279.3 307.9M278.9 302.0L280.7 303.0L281.8 303.3L281.5 304.1L280.7 305.1L281.2 306.7L281.5 306.9M280.7 302.2L281.1 300.5M284.7 300.2L285.0 302.0L283.8 302.4L284.6 303.4L284.2 304.1L282.5 304.3L281.5 304.1M285.0 302.0L287.2 302.9L288.9 303.1L289.6 302.0L289.3 300.9L289.1 300.0L287.3 299.8M288.9 303.1L288.8 303.7L291.0 303.5L291.9 305.4L292.7 305.5M288.8 303.7L287.9 305.0L287.2 305.2L286.0 304.8L284.6 304.8L284.6 305.5M289.6 302.0L291.0 301.5L293.2 301.0M291.1 298.7L290.4 298.9L289.2 300.0L288.7 299.8L288.7 299.4M287.9 305.0L289.1 306.2L289.2 306.8L289.1 307.9L291.2 308.3L292.0 308.0M289.1 306.2L291.4 306.5L292.2 306.7M288.2 308.9L289.1 307.9M287.6 308.2L288.2 308.9L288.1 309.9M283.8 298.8L283.6 296.4L283.4 295.2L283.3 293.0L284.2 291.1L285.0 289.5L286.7 288.6L286.9 289.0M286.9 289.0L288.1 289.5L288.5 291.1L288.6 291.3M286.9 289.0L288.8 288.5L290.0 287.6M290.0 287.6L290.3 288.2M296.3 312.0L297.5 311.8L299.6 311.4L300.8 311.3M296.4 314.5L296.9 315.1L298.3 315.2L298.4 315.2L300.0 316.1L301.5 317.3L302.4 317.3L303.2 316.9M296.2 317.3L296.8 317.4L297.6 316.9L297.3 315.8L298.3 315.2M299.5 311.5L299.2 313.5L298.3 315.2M305.5 323.2L307.4 322.6L307.4 321.0L305.8 320.1M305.5 323.2L303.4 323.8L302.3 324.4L301.2 324.3L300.8 324.7L300.6 324.9M307.1 324.4L305.5 323.2M307.4 322.6L308.2 323.2M307.6 319.6L307.5 320.2M353.8 337.6L353.6 342.0M336.9 334.4L337.9 335.1L339.5 334.8L340.0 332.6L341.1 332.7" fill="none" stroke="#fff" stroke-opacity="0.6" stroke-width="0.32" stroke-linejoin="round"/></svg>
<div style="position:absolute;left:420.50px;top:245.30px;width:249.70px;height:132.20px;background:#fff;"></div>
<svg style="position:absolute;left:426.9px;top:250.2px;width:6.6px;height:6.2px" viewBox="0 0 66 62"><rect x="4" y="9" width="58" height="49" rx="5" fill="none" stroke="#444" stroke-width="8"/><rect x="4" y="9" width="58" height="15" fill="#444"/><rect x="15" y="0" width="8" height="14" fill="#444"/><rect x="43" y="0" width="8" height="14" fill="#444"/></svg>
<div style="position:absolute;top:248px;font-size:6.9px;line-height:10px;color:#555;white-space:nowrap;left:438.60px;">Recent Activity</div>
<div style="position:absolute;top:264px;font-size:5.25px;line-height:10px;color:#6a6a6a;white-space:nowrap;left:427.60px;"><u>jaua jaa</u> logged in.</div>
<svg style="position:absolute;left:427.50px;top:273.95px;width:4.1px;height:4.1px" viewBox="0 0 38 38"><circle cx="19" cy="19" r="14.5" fill="none" stroke="#787878" stroke-width="6.5"/><path d="M19 10V20H26" stroke="#787878" stroke-width="4.5" fill="none"/></svg>
<div style="position:absolute;top:272px;font-size:4.85px;line-height:10px;color:#a0a0a0;white-space:nowrap;left:432.40px;">02/02/2019 14:19:22</div>
<div style="position:absolute;top:287px;font-size:5.25px;line-height:10px;color:#6a6a6a;white-space:nowrap;left:425.90px;">Donald Wisland created a <u>new order</u>.</div>
<svg style="position:absolute;left:425.80px;top:297.95px;width:4.1px;height:4.1px" viewBox="0 0 38 38"><circle cx="19" cy="19" r="14.5" fill="none" stroke="#787878" stroke-width="6.5"/><path d="M19 10V20H26" stroke="#787878" stroke-width="4.5" fill="none"/></svg>
<div style="position:absolute;top:296px;font-size:4.85px;line-height:10px;color:#a0a0a0;white-space:nowrap;left:430.70px;">11/03/2019 16:12:47</div>
<div style="position:absolute;top:311px;font-size:5.25px;line-height:10px;color:#6a6a6a;white-space:nowrap;left:425.90px;">Kris Bolt created a <u>new order</u>.</div>
<svg style="position:absolute;left:425.80px;top:320.95px;width:4.1px;height:4.1px" viewBox="0 0 38 38"><circle cx="19" cy="19" r="14.5" fill="none" stroke="#787878" stroke-width="6.5"/><path d="M19 10V20H26" stroke="#787878" stroke-width="4.5" fill="none"/></svg>
<div style="position:absolute;top:319px;font-size:4.85px;line-height:10px;color:#a0a0a0;white-space:nowrap;left:430.70px;">11/03/2019 15:26:55</div>
<div style="position:absolute;top:334px;font-size:5.25px;line-height:10px;color:#6a6a6a;white-space:nowrap;left:425.90px;">Donald Wisland created a <u>new order</u>.</div>
<svg style="position:absolute;left:425.80px;top:343.95px;width:4.1px;height:4.1px" viewBox="0 0 38 38"><circle cx="19" cy="19" r="14.5" fill="none" stroke="#787878" stroke-width="6.5"/><path d="M19 10V20H26" stroke="#787878" stroke-width="4.5" fill="none"/></svg>
<div style="position:absolute;top:342px;font-size:4.85px;line-height:10px;color:#a0a0a0;white-space:nowrap;left:430.70px;">11/03/2019 16:12:47</div>
<div style="position:absolute;top:358px;font-size:5.25px;line-height:10px;color:#6a6a6a;white-space:nowrap;left:425.90px;">Kris Bolt created a <u>new order</u>.</div>
<svg style="position:absolute;left:425.80px;top:367.95px;width:4.1px;height:4.1px" viewBox="0 0 38 38"><circle cx="19" cy="19" r="14.5" fill="none" stroke="#787878" stroke-width="6.5"/><path d="M19 10V20H26" stroke="#787878" stroke-width="4.5" fill="none"/></svg>
<div style="position:absolute;top:366px;font-size:4.85px;line-height:10px;color:#a0a0a0;white-space:nowrap;left:430.70px;">11/03/2019 15:26:55</div>
<div style="position:absolute;left:420.50px;top:307.00px;width:249.80px;height:0.70px;background:#e6e6e6;"></div>
<div style="position:absolute;left:420.50px;top:330.10px;width:249.80px;height:0.70px;background:#e6e6e6;"></div>
<div style="position:absolute;left:420.50px;top:353.70px;width:249.80px;height:0.70px;background:#e6e6e6;"></div>
<div style="position:absolute;top:395px;font-size:5.2px;line-height:10px;color:#555;white-space:nowrap;font-weight:400;left:413.70px;transform:translateX(-50%);">fesh. &copy; 2006-2019 All Rights Reserved.</div>
</div></div></body></html>
